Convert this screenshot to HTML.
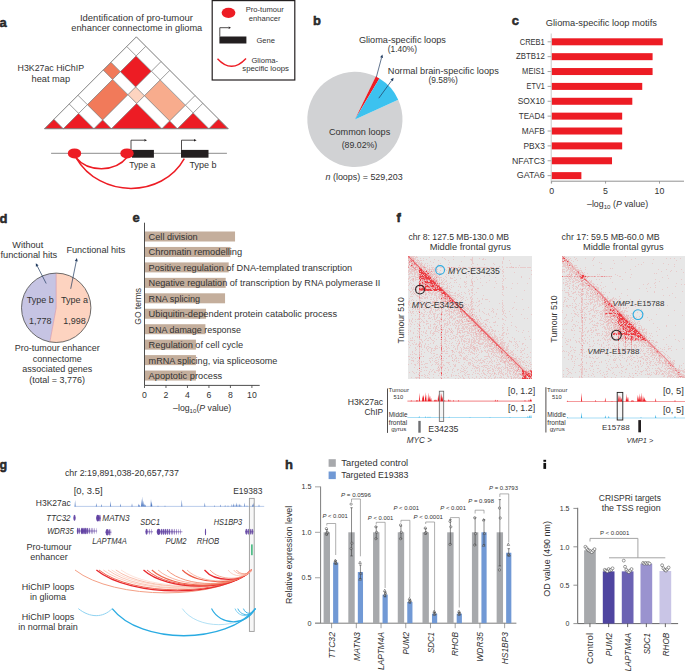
<!DOCTYPE html>
<html><head><meta charset="utf-8"><style>
html,body{margin:0;padding:0;background:#fff;}
svg{display:block;}
text{font-family:"Liberation Sans",sans-serif;fill:#333;}
</style></head><body>
<svg width="685" height="671" viewBox="0 0 685 671">
<defs><filter id="hb" x="-2%" y="-2%" width="104%" height="104%"><feGaussianBlur stdDeviation="0.35"/></filter></defs>
<rect width="685" height="671" fill="#fff"/>
<text x="-0.60" y="27.20" font-size="13.00" font-weight="bold" fill="#111" stroke="#111" stroke-width="0.45">a</text>
<text x="136.40" y="21.20" font-size="9.50" text-anchor="middle">Identification of pro-tumour</text>
<text x="136.80" y="31.30" font-size="9.24" text-anchor="middle">enhancer connectome in glioma</text>
<text x="50.80" y="71.00" font-size="8.81" text-anchor="middle">H3K27ac HiChIP</text>
<text x="50.80" y="82.00" font-size="9.26" text-anchor="middle">heat map</text>
<polygon points="44.50,128.70 53.95,119.25 63.40,128.70" fill="#ed1c24" stroke="#7d7d7d" stroke-width="0.6"/>
<polygon points="53.95,119.25 69.25,103.95 78.70,113.40 63.40,128.70" fill="#ffffff" stroke="#7d7d7d" stroke-width="0.6"/>
<polygon points="69.25,103.95 78.00,95.20 87.45,104.65 78.70,113.40" fill="#ffffff" stroke="#7d7d7d" stroke-width="0.6"/>
<polygon points="78.00,95.20 103.25,69.95 112.70,79.40 87.45,104.65" fill="#ffffff" stroke="#7d7d7d" stroke-width="0.6"/>
<polygon points="103.25,69.95 111.00,62.20 120.45,71.65 112.70,79.40" fill="#f17a5a" stroke="#7d7d7d" stroke-width="0.6"/>
<polygon points="111.00,62.20 126.75,46.45 136.20,55.90 120.45,71.65" fill="#ffffff" stroke="#7d7d7d" stroke-width="0.6"/>
<polygon points="126.75,46.45 136.35,36.85 145.80,46.30 136.20,55.90" fill="#ffffff" stroke="#7d7d7d" stroke-width="0.6"/>
<polygon points="63.40,128.70 78.70,113.40 94.00,128.70" fill="#ed1c24" stroke="#7d7d7d" stroke-width="0.6"/>
<polygon points="78.70,113.40 87.45,104.65 102.75,119.95 94.00,128.70" fill="#ffffff" stroke="#7d7d7d" stroke-width="0.6"/>
<polygon points="87.45,104.65 112.70,79.40 128.00,94.70 102.75,119.95" fill="#f17a5a" stroke="#7d7d7d" stroke-width="0.6"/>
<polygon points="112.70,79.40 120.45,71.65 135.75,86.95 128.00,94.70" fill="#ffffff" stroke="#7d7d7d" stroke-width="0.6"/>
<polygon points="120.45,71.65 136.20,55.90 151.50,71.20 135.75,86.95" fill="#ed1c24" stroke="#7d7d7d" stroke-width="0.6"/>
<polygon points="136.20,55.90 145.80,46.30 161.10,61.60 151.50,71.20" fill="#ffffff" stroke="#7d7d7d" stroke-width="0.6"/>
<polygon points="94.00,128.70 102.75,119.95 111.50,128.70" fill="#ed1c24" stroke="#7d7d7d" stroke-width="0.6"/>
<polygon points="102.75,119.95 128.00,94.70 136.75,103.45 111.50,128.70" fill="#ffffff" stroke="#7d7d7d" stroke-width="0.6"/>
<polygon points="128.00,94.70 135.75,86.95 144.50,95.70 136.75,103.45" fill="#fdd4c0" stroke="#7d7d7d" stroke-width="0.6"/>
<polygon points="135.75,86.95 151.50,71.20 160.25,79.95 144.50,95.70" fill="#ffffff" stroke="#7d7d7d" stroke-width="0.6"/>
<polygon points="151.50,71.20 161.10,61.60 169.85,70.35 160.25,79.95" fill="#ffffff" stroke="#7d7d7d" stroke-width="0.6"/>
<polygon points="111.50,128.70 136.75,103.45 162.00,128.70" fill="#ed1c24" stroke="#7d7d7d" stroke-width="0.6"/>
<polygon points="136.75,103.45 144.50,95.70 169.75,120.95 162.00,128.70" fill="#ffffff" stroke="#7d7d7d" stroke-width="0.6"/>
<polygon points="144.50,95.70 160.25,79.95 185.50,105.20 169.75,120.95" fill="#f8ac8d" stroke="#7d7d7d" stroke-width="0.6"/>
<polygon points="160.25,79.95 169.85,70.35 195.10,95.60 185.50,105.20" fill="#ffffff" stroke="#7d7d7d" stroke-width="0.6"/>
<polygon points="162.00,128.70 169.75,120.95 177.50,128.70" fill="#ed1c24" stroke="#7d7d7d" stroke-width="0.6"/>
<polygon points="169.75,120.95 185.50,105.20 193.25,112.95 177.50,128.70" fill="#ffffff" stroke="#7d7d7d" stroke-width="0.6"/>
<polygon points="185.50,105.20 195.10,95.60 202.85,103.35 193.25,112.95" fill="#ffffff" stroke="#7d7d7d" stroke-width="0.6"/>
<polygon points="177.50,128.70 193.25,112.95 209.00,128.70" fill="#ed1c24" stroke="#7d7d7d" stroke-width="0.6"/>
<polygon points="193.25,112.95 202.85,103.35 218.60,119.10 209.00,128.70" fill="#ffffff" stroke="#7d7d7d" stroke-width="0.6"/>
<polygon points="209.00,128.70 218.60,119.10 228.20,128.70" fill="#ed1c24" stroke="#7d7d7d" stroke-width="0.6"/>
<polygon points="44.50,128.70 136.35,36.85 228.20,128.70" fill="none" stroke="#7d7d7d" stroke-width="0.65"/>
<rect x="212.2" y="0.6" width="82.6" height="79.4" fill="none" stroke="#231f20" stroke-width="1.2"/>
<ellipse cx="228.5" cy="12.8" rx="6.9" ry="5.1" fill="#ed1c24"/>
<text x="264.70" y="11.70" font-size="7.60" text-anchor="middle">Pro-tumour</text>
<text x="264.70" y="20.60" font-size="7.60" text-anchor="middle">enhancer</text>
<rect x="219.40" y="36.50" width="27.00" height="7.00" fill="#231f20"/>
<line x1="219.80" y1="36.50" x2="219.80" y2="27.70" stroke="#231f20" stroke-width="0.8"/>
<line x1="219.80" y1="27.70" x2="228.60" y2="27.70" stroke="#231f20" stroke-width="0.8"/>
<polygon points="231.00,27.70 228.60,28.90 228.60,26.50" fill="#231f20" stroke="none" stroke-width="0.6"/>
<text x="265.70" y="42.60" font-size="7.60" text-anchor="middle">Gene</text>
<path d="M217.5,58.7 Q231.5,74 246,58.4" fill="none" stroke="#ed1c24" stroke-width="1.4"/>
<text x="264.70" y="62.80" font-size="7.60" text-anchor="middle">Glioma-</text>
<text x="265.60" y="71.30" font-size="7.78" text-anchor="middle">specific loops</text>
<line x1="51.10" y1="153.40" x2="226.90" y2="153.40" stroke="#a3a3a3" stroke-width="1.3"/>
<rect x="132.00" y="149.90" width="21.90" height="7.80" fill="#231f20"/>
<rect x="181.00" y="149.90" width="27.50" height="7.80" fill="#231f20"/>
<line x1="131.00" y1="149.90" x2="131.00" y2="140.20" stroke="#231f20" stroke-width="0.8"/>
<line x1="131.00" y1="140.20" x2="144.40" y2="140.20" stroke="#231f20" stroke-width="0.8"/>
<polygon points="147.00,140.20 144.40,141.50 144.40,138.90" fill="#231f20" stroke="none" stroke-width="0.6"/>
<line x1="181.50" y1="149.90" x2="181.50" y2="140.20" stroke="#231f20" stroke-width="0.8"/>
<line x1="181.50" y1="140.20" x2="194.00" y2="140.20" stroke="#231f20" stroke-width="0.8"/>
<polygon points="196.60,140.20 194.00,141.50 194.00,138.90" fill="#231f20" stroke="none" stroke-width="0.6"/>
<path d="M75.6,157.2 C88,172.5 115,172.5 127.3,157" fill="none" stroke="#ed1c24" stroke-width="1.5"/>
<path d="M76.1,157.8 C100,198.5 162,198.5 184.3,158.6" fill="none" stroke="#ed1c24" stroke-width="1.5"/>
<ellipse cx="74.5" cy="153.4" rx="6.7" ry="5.0" fill="#ed1c24"/>
<ellipse cx="127.0" cy="153.4" rx="6.7" ry="5.0" fill="#ed1c24"/>
<text x="129.20" y="168.00" font-size="8.70">Type a</text>
<text x="189.50" y="168.00" font-size="9.03">Type b</text>
<text x="313.00" y="25.40" font-size="13.00" font-weight="bold" fill="#111" stroke="#111" stroke-width="0.45">b</text>
<path d="M354.90,119.40 L398.21,99.66 A47.6,47.6 0 1 1 375.77,76.62 Z" fill="#d1d2d4" stroke="none" stroke-width="0"/>
<path d="M354.90,119.40 L375.77,76.62 A47.6,47.6 0 0 1 379.42,78.60 Z" fill="#ed1c24" stroke="none" stroke-width="0"/>
<path d="M354.90,119.40 L379.42,78.60 A47.6,47.6 0 0 1 398.21,99.66 Z" fill="#3cc2ef" stroke="none" stroke-width="0"/>
<text x="358.90" y="42.70" font-size="9.16">Glioma-specific loops</text>
<text x="387.80" y="51.90" font-size="8.34">(1.40%)</text>
<text x="387.80" y="73.80" font-size="9.21">Normal brain-specific loops</text>
<text x="428.40" y="83.20" font-size="8.43">(9.58%)</text>
<line x1="376.40" y1="77.00" x2="381.58" y2="57.59" stroke="#1f3a5f" stroke-width="0.7"/>
<polygon points="382.40,54.50 383.02,57.98 380.13,57.21" fill="#1f3a5f" stroke="none" stroke-width="0.6"/>
<line x1="378.80" y1="98.20" x2="391.72" y2="80.39" stroke="#1f3a5f" stroke-width="0.7"/>
<polygon points="393.60,77.80 392.94,81.27 390.51,79.51" fill="#1f3a5f" stroke="none" stroke-width="0.6"/>
<text x="328.90" y="134.90" font-size="9.13">Common loops</text>
<text x="341.70" y="148.00" font-size="8.75">(89.02%)</text>
<text x="325.50" y="180.40" font-size="8.94"><tspan font-style="italic">n</tspan><tspan> (loops) = 529,203</tspan></text>
<text x="511.80" y="25.00" font-size="13.00" font-weight="bold" fill="#111" stroke="#111" stroke-width="0.45">c</text>
<text x="545.80" y="26.20" font-size="9.31">Glioma-specific loop motifs</text>
<rect x="551.60" y="38.30" width="111.14" height="7.00" fill="#ed1c24"/>
<line x1="547.60" y1="41.80" x2="551.60" y2="41.80" stroke="#8a8a8a" stroke-width="0.8"/>
<text x="544.80" y="44.60" font-size="8.70" textLength="25.10" lengthAdjust="spacingAndGlyphs" text-anchor="end">CREB1</text>
<rect x="551.60" y="53.17" width="100.99" height="7.00" fill="#ed1c24"/>
<line x1="547.60" y1="56.67" x2="551.60" y2="56.67" stroke="#8a8a8a" stroke-width="0.8"/>
<text x="544.80" y="59.47" font-size="8.70" textLength="28.70" lengthAdjust="spacingAndGlyphs" text-anchor="end">ZBTB12</text>
<rect x="551.60" y="68.04" width="100.99" height="7.00" fill="#ed1c24"/>
<line x1="547.60" y1="71.54" x2="551.60" y2="71.54" stroke="#8a8a8a" stroke-width="0.8"/>
<text x="544.80" y="74.34" font-size="8.70" textLength="22.70" lengthAdjust="spacingAndGlyphs" text-anchor="end">MEIS1</text>
<rect x="551.60" y="82.91" width="90.64" height="7.00" fill="#ed1c24"/>
<line x1="547.60" y1="86.41" x2="551.60" y2="86.41" stroke="#8a8a8a" stroke-width="0.8"/>
<text x="544.80" y="89.21" font-size="8.70" textLength="18.20" lengthAdjust="spacingAndGlyphs" text-anchor="end">ETV1</text>
<rect x="551.60" y="97.78" width="80.71" height="7.00" fill="#ed1c24"/>
<line x1="547.60" y1="101.28" x2="551.60" y2="101.28" stroke="#8a8a8a" stroke-width="0.8"/>
<text x="544.80" y="104.08" font-size="8.70" textLength="27.10" lengthAdjust="spacingAndGlyphs" text-anchor="end">SOX10</text>
<rect x="551.60" y="112.65" width="70.57" height="7.00" fill="#ed1c24"/>
<line x1="547.60" y1="116.15" x2="551.60" y2="116.15" stroke="#8a8a8a" stroke-width="0.8"/>
<text x="544.80" y="118.95" font-size="8.70" textLength="26.00" lengthAdjust="spacingAndGlyphs" text-anchor="end">TEAD4</text>
<rect x="551.60" y="127.52" width="70.57" height="7.00" fill="#ed1c24"/>
<line x1="547.60" y1="131.02" x2="551.60" y2="131.02" stroke="#8a8a8a" stroke-width="0.8"/>
<text x="544.80" y="133.82" font-size="8.70" textLength="23.00" lengthAdjust="spacingAndGlyphs" text-anchor="end">MAFB</text>
<rect x="551.60" y="142.39" width="70.57" height="7.00" fill="#ed1c24"/>
<line x1="547.60" y1="145.89" x2="551.60" y2="145.89" stroke="#8a8a8a" stroke-width="0.8"/>
<text x="544.80" y="148.69" font-size="8.70" textLength="21.30" lengthAdjust="spacingAndGlyphs" text-anchor="end">PBX3</text>
<rect x="551.60" y="157.26" width="60.42" height="7.00" fill="#ed1c24"/>
<line x1="547.60" y1="160.76" x2="551.60" y2="160.76" stroke="#8a8a8a" stroke-width="0.8"/>
<text x="544.80" y="163.56" font-size="8.70" textLength="32.80" lengthAdjust="spacingAndGlyphs" text-anchor="end">NFATC3</text>
<rect x="551.60" y="172.13" width="29.78" height="7.00" fill="#ed1c24"/>
<line x1="547.60" y1="175.63" x2="551.60" y2="175.63" stroke="#8a8a8a" stroke-width="0.8"/>
<text x="544.80" y="178.43" font-size="8.70" textLength="28.00" lengthAdjust="spacingAndGlyphs" text-anchor="end">GATA6</text>
<line x1="551.20" y1="33.50" x2="551.20" y2="183.40" stroke="#c4c4c4" stroke-width="0.9"/>
<line x1="551.60" y1="181.20" x2="684.00" y2="181.20" stroke="#858585" stroke-width="0.9"/>
<line x1="551.60" y1="181.20" x2="551.60" y2="183.60" stroke="#858585" stroke-width="0.8"/>
<text x="551.60" y="193.50" font-size="8.80" text-anchor="middle">0</text>
<line x1="605.55" y1="181.20" x2="605.55" y2="183.60" stroke="#858585" stroke-width="0.8"/>
<text x="605.55" y="193.50" font-size="8.80" text-anchor="middle">5</text>
<line x1="659.50" y1="181.20" x2="659.50" y2="183.60" stroke="#858585" stroke-width="0.8"/>
<text x="659.50" y="193.50" font-size="8.80" text-anchor="middle">10</text>
<text x="587.00" y="206.80" font-size="8.81"><tspan>–log</tspan><tspan font-size="6.17" dy="2.20">10</tspan><tspan dy="-2.20"> (</tspan><tspan font-style="italic">P</tspan><tspan> value)</tspan></text>
<text x="-0.60" y="223.00" font-size="13.00" font-weight="bold" fill="#111" stroke="#111" stroke-width="0.45">d</text>
<path d="M56.20,307.80 L56.20,273.10 A34.7,34.7 0 1 1 49.88,341.92 Z" fill="#fdd3c0" stroke="none" stroke-width="0"/>
<path d="M56.20,307.80 L49.88,341.92 A34.7,34.7 0 0 1 56.20,273.10 Z" fill="#c6c4e3" stroke="none" stroke-width="0"/>
<path d="M56.2,273.1 L56.2,307.8 L49.88,341.92" fill="none" stroke="#d890a0" stroke-width="0.6"/>
<circle cx="56.2" cy="307.8" r="34.7" fill="none" stroke="#4a4a4a" stroke-width="0.8"/>
<text x="40.30" y="302.90" font-size="9.00" text-anchor="middle">Type b</text>
<text x="74.50" y="302.90" font-size="9.00" text-anchor="middle">Type a</text>
<text x="40.30" y="323.70" font-size="9.00" text-anchor="middle">1,778</text>
<text x="74.50" y="323.70" font-size="9.00" text-anchor="middle">1,998</text>
<text x="12.30" y="247.90" font-size="9.14">Without</text>
<text x="0.40" y="258.20" font-size="9.31">functional hits</text>
<text x="66.40" y="253.00" font-size="9.14">Functional hits</text>
<line x1="46.20" y1="283.50" x2="37.26" y2="266.05" stroke="#1f3a5f" stroke-width="0.7"/>
<polygon points="35.80,263.20 38.59,265.36 35.92,266.73" fill="#1f3a5f" stroke="none" stroke-width="0.6"/>
<line x1="70.70" y1="288.80" x2="76.27" y2="261.24" stroke="#1f3a5f" stroke-width="0.7"/>
<polygon points="76.90,258.10 77.74,261.53 74.80,260.94" fill="#1f3a5f" stroke="none" stroke-width="0.6"/>
<text x="57.20" y="351.30" font-size="9.00" text-anchor="middle">Pro-tumour enhancer</text>
<text x="57.20" y="361.70" font-size="9.00" text-anchor="middle">connectome</text>
<text x="57.20" y="372.10" font-size="9.00" text-anchor="middle">associated genes</text>
<text x="57.20" y="382.50" font-size="9.00" text-anchor="middle">(total = 3,776)</text>
<text x="132.40" y="222.20" font-size="13.00" font-weight="bold" fill="#111" stroke="#111" stroke-width="0.45">e</text>
<rect x="144.50" y="231.50" width="90.54" height="10.00" fill="#c4ae9c"/>
<text x="148.60" y="239.90" font-size="9.20" textLength="49.10" lengthAdjust="spacingAndGlyphs">Cell division</text>
<rect x="144.50" y="246.95" width="85.92" height="10.00" fill="#c4ae9c"/>
<text x="148.60" y="255.35" font-size="9.20" textLength="93.60" lengthAdjust="spacingAndGlyphs">Chromatin remodelling</text>
<rect x="144.50" y="262.40" width="84.20" height="10.00" fill="#c4ae9c"/>
<text x="148.60" y="270.80" font-size="9.20" textLength="203.60" lengthAdjust="spacingAndGlyphs">Positive regulation of DNA-templated transcription</text>
<rect x="144.50" y="277.85" width="81.19" height="10.00" fill="#c4ae9c"/>
<text x="148.60" y="286.25" font-size="9.20" textLength="231.80" lengthAdjust="spacingAndGlyphs">Negative regulation of transcription by RNA polymerase II</text>
<rect x="144.50" y="293.30" width="80.55" height="10.00" fill="#c4ae9c"/>
<text x="148.60" y="301.70" font-size="9.20" textLength="51.50" lengthAdjust="spacingAndGlyphs">RNA splicing</text>
<rect x="144.50" y="308.75" width="61.54" height="10.00" fill="#c4ae9c"/>
<text x="148.60" y="317.15" font-size="9.20" textLength="188.50" lengthAdjust="spacingAndGlyphs">Ubiquitin-dependent protein catabolic process</text>
<rect x="144.50" y="324.20" width="60.90" height="10.00" fill="#c4ae9c"/>
<text x="148.60" y="332.60" font-size="9.20" textLength="92.40" lengthAdjust="spacingAndGlyphs">DNA damage response</text>
<rect x="144.50" y="339.65" width="51.44" height="10.00" fill="#c4ae9c"/>
<text x="148.60" y="348.05" font-size="9.20" textLength="94.50" lengthAdjust="spacingAndGlyphs">Regulation of cell cycle</text>
<rect x="144.50" y="355.10" width="51.44" height="10.00" fill="#c4ae9c"/>
<text x="148.60" y="363.50" font-size="9.20" textLength="128.80" lengthAdjust="spacingAndGlyphs">mRNA splicing, via spliceosome</text>
<rect x="144.50" y="370.55" width="51.44" height="10.00" fill="#c4ae9c"/>
<text x="148.60" y="378.95" font-size="9.20" textLength="73.60" lengthAdjust="spacingAndGlyphs">Apoptotic process</text>
<line x1="144.50" y1="222.70" x2="144.50" y2="385.40" stroke="#3a3a3a" stroke-width="0.9"/>
<line x1="144.50" y1="385.40" x2="259.70" y2="385.40" stroke="#3a3a3a" stroke-width="0.9"/>
<line x1="144.50" y1="385.40" x2="144.50" y2="388.00" stroke="#3a3a3a" stroke-width="0.8"/>
<text x="144.50" y="398.00" font-size="8.70" text-anchor="middle">0</text>
<line x1="165.98" y1="385.40" x2="165.98" y2="388.00" stroke="#3a3a3a" stroke-width="0.8"/>
<text x="165.98" y="398.00" font-size="8.70" text-anchor="middle">2</text>
<line x1="187.46" y1="385.40" x2="187.46" y2="388.00" stroke="#3a3a3a" stroke-width="0.8"/>
<text x="187.46" y="398.00" font-size="8.70" text-anchor="middle">4</text>
<line x1="208.94" y1="385.40" x2="208.94" y2="388.00" stroke="#3a3a3a" stroke-width="0.8"/>
<text x="208.94" y="398.00" font-size="8.70" text-anchor="middle">6</text>
<line x1="230.42" y1="385.40" x2="230.42" y2="388.00" stroke="#3a3a3a" stroke-width="0.8"/>
<text x="230.42" y="398.00" font-size="8.70" text-anchor="middle">8</text>
<line x1="251.90" y1="385.40" x2="251.90" y2="388.00" stroke="#3a3a3a" stroke-width="0.8"/>
<text x="251.90" y="398.00" font-size="8.70" text-anchor="middle">10</text>
<text x="173.10" y="411.10" font-size="8.73"><tspan>–log</tspan><tspan font-size="6.11" dy="2.18">10</tspan><tspan dy="-2.18">(</tspan><tspan font-style="italic">P</tspan><tspan> value)</tspan></text>
<text x="140.80" y="306.30" font-size="8.49" text-anchor="middle" transform="rotate(-90 140.80 306.30)">GO terms</text>
<text x="396.60" y="222.20" font-size="13.00" font-weight="bold" fill="#111" stroke="#111" stroke-width="0.45">f</text>
<text x="408.40" y="240.10" font-size="8.65">chr 8: 127.5 MB-130.0 MB</text>
<text x="429.70" y="250.00" font-size="9.31">Middle frontal gyrus</text>
<text x="561.60" y="240.10" font-size="8.83">chr 17: 59.5 MB-60.0 MB</text>
<text x="583.00" y="250.00" font-size="9.24">Middle frontal gyrus</text>
<rect x="408.00" y="256.00" width="124.00" height="123.00" fill="#e7e7e7"/>
<g filter="url(#hb)"><path d="M410 256.5h5m1 0h1m36 0h1m10 0h1M412 257.5h2m1 0h3m11 0h1m12 0h1m29 0h1m30 0h1M414 258.5h2m4 0h1m2 0h1m20 0h1m27 0h1m6 0h1m3 0h1m19 0h1M408 259.5h2m4 0h2m1 0h1m8 0h1m7 0h1m10 0h1m7 0h1m16 0h3m9 0h2m1 0h1m17 0h1M409 260.5h1m4 0h1m1 0h2m2 0h2m1 0h1m14 0h1m9 0h1m22 0h2m36 0h1M415 261.5h1m1 0h1m1 0h1m10 0h1m30 0h1m10 0h1m29 0h1M408 262.5h1m2 0h2m4 0h3m1 0h1m11 0h1m15 0h1m22 0h1m29 0h1M408 263.5h2m3 0h1m4 0h5m2 0h1m1 0h1m12 0h1m31 0h2m19 0h1m8 0h1m7 0h1M418 264.5h3m3 0h1m13 0h1m9 0h1m22 0h1m5 0h1m6 0h1m9 0h1M408 265.5h3m2 0h3m5 0h2m1 0h1m2 0h1m1 0h1m1 0h1m5 0h1m21 0h1m59 0h1M415 266.5h1m4 0h3m1 0h1m2 0h1m14 0h1m29 0h1m26 0h1m2 0h1m8 0h1M409 267.5h1m1 0h1m2 0h1m7 0h1m3 0h1m2 0h1m1 0h3m1 0h1m1 0h1m2 0h4m3 0h1m4 0h1m1 0h2m3 0h2m1 0h1m1 0h2m2 0h3m1 0h6m2 0h4m1 0h3m4 0h2m2 0h3m3 0h1m3 0h2m1 0h4m2 0h2m1 0h1m1 0h6m1 0h4M409 268.5h3m1 0h1m3 0h2m4 0h3m1 0h1m1 0h1m2 0h1m1 0h1m1 0h1m14 0h1m1 0h1m15 0h1m1 0h2m4 0h1m11 0h1M409 269.5h3m1 0h2m3 0h1m4 0h2m2 0h2m1 0h5m1 0h2m7 0h1m6 0h1m47 0h1m2 0h1M408 270.5h2m1 0h3m1 0h2m10 0h1m3 0h1m1 0h2m1 0h1m3 0h1m5 0h1m9 0h1m15 0h1m29 0h1m28 0h1M408 271.5h7m1 0h3m8 0h1m1 0h2m1 0h3m1 0h2m16 0h1m16 0h1m30 0h2M408 272.5h1m1 0h2m2 0h4m8 0h1m1 0h1m3 0h1m1 0h1m4 0h1m14 0h1m10 0h1m5 0h1m8 0h1m22 0h1m10 0h1M409 273.5h4m1 0h2m1 0h3m9 0h2m2 0h5m2 0h2m26 0h1m5 0h1m27 0h1M408 274.5h2m2 0h1m1 0h2m1 0h2m10 0h1m1 0h1m1 0h1m1 0h2m2 0h2m5 0h1m19 0h1m5 0h1m58 0h1M414 275.5h1m2 0h2m4 0h1m7 0h3m1 0h3m10 0h1m4 0h1m4 0h1m10 0h1m19 0h1m13 0h1M409 276.5h1m1 0h5m2 0h1m15 0h5m6 0h1m20 0h1m5 0h1m11 0h1m18 0h1m17 0h1M409 277.5h2m4 0h2m1 0h1m13 0h1m4 0h5m4 0h1m3 0h1m3 0h1m11 0h1m9 0h1m18 0h1m25 0h1M408 278.5h2m2 0h1m2 0h1m16 0h1m1 0h1m1 0h1m2 0h1m3 0h1m6 0h3m7 0h1m11 0h1m7 0h1m21 0h1m2 0h1m23 0h1M408 279.5h1m2 0h2m2 0h4m16 0h3m1 0h1m1 0h1m2 0h1m11 0h1m14 0h1m5 0h1m25 0h1M410 280.5h1m1 0h2m1 0h1m3 0h1m1 0h1m3 0h1m2 0h1m8 0h1m1 0h1m1 0h1m1 0h1m2 0h1m7 0h2m15 0h1m17 0h1m13 0h1M408 281.5h1m4 0h1m14 0h1m8 0h2m3 0h1m2 0h2m17 0h1m1 0h1m4 0h2m1 0h1m20 0h1m6 0h1M410 282.5h1m7 0h1m17 0h1m2 0h1m2 0h1m1 0h1m5 0h1m3 0h1m1 0h1m7 0h2m5 0h2m7 0h1m5 0h1M409 283.5h1m1 0h1m9 0h1m16 0h1m1 0h2m1 0h1m3 0h1m1 0h1m16 0h1m29 0h1m5 0h1m9 0h1m4 0h1m9 0h1M409 284.5h1m3 0h1m24 0h1m2 0h4m1 0h1m12 0h1m5 0h1m6 0h1M408 285.5h1m3 0h1m1 0h1m9 0h1m22 0h1m3 0h1m18 0h3m9 0h1m19 0h1M415 286.5h4m22 0h3m3 0h1m1 0h1m3 0h1m4 0h1m1 0h1m3 0h1m1 0h1m6 0h1m28 0h2M411 287.5h1m1 0h1m1 0h3m3 0h1m24 0h2m3 0h1m8 0h1m4 0h1m28 0h1m7 0h2m2 0h1M411 288.5h1m1 0h1m1 0h1m11 0h1m14 0h6m1 0h1m22 0h1m4 0h2m24 0h1m7 0h1M408 289.5h1m3 0h3m1 0h1m15 0h1m11 0h1m5 0h1m17 0h1m2 0h2m29 0h2M409 290.5h1m2 0h1m3 0h1m21 0h1m5 0h5m9 0h1m10 0h1m1 0h2m51 0h1M410 291.5h2m1 0h1m4 0h1m1 0h1m4 0h1m2 0h2m3 0h2m10 0h3m20 0h1M410 292.5h1m2 0h1m1 0h1m2 0h1m3 0h1m1 0h2m3 0h2m1 0h2m1 0h3m1 0h1m6 0h7m2 0h1m5 0h1m2 0h1m6 0h2m3 0h1m25 0h1M412 293.5h1m3 0h1m4 0h1m3 0h2m2 0h4m1 0h3m2 0h1m7 0h1m1 0h1m4 0h2m3 0h1m5 0h1m3 0h1m2 0h1M411 294.5h1m1 0h1m1 0h1m3 0h1m3 0h1m2 0h1m1 0h1m2 0h2m1 0h2m2 0h2m9 0h2m6 0h2m2 0h1m7 0h1m4 0h1m27 0h1M416 295.5h2m3 0h1m3 0h1m3 0h1m1 0h1m2 0h3m2 0h2m2 0h1m7 0h5m1 0h1m1 0h1m12 0h1m10 0h1m19 0h1M410 296.5h3m4 0h2m3 0h2m3 0h1m8 0h1m1 0h4m8 0h2m3 0h1m2 0h1m1 0h1m2 0h1m7 0h1m44 0h1M420 297.5h2m2 0h4m2 0h2m2 0h1m1 0h1m1 0h2m11 0h1m1 0h1m3 0h1m3 0h2m3 0h1m3 0h2M409 298.5h1m10 0h3m1 0h2m1 0h1m5 0h1m2 0h2m4 0h1m5 0h1m3 0h4m4 0h1m2 0h1m6 0h1m1 0h1m4 0h1m4 0h1M412 299.5h1m6 0h1m10 0h2m1 0h1m2 0h1m3 0h1m1 0h3m3 0h1m7 0h1m5 0h1m4 0h1m3 0h2m9 0h1m2 0h3m34 0h1M409 300.5h1m1 0h1m1 0h1m2 0h1m2 0h2m13 0h1m1 0h2m3 0h4m12 0h1m3 0h1m3 0h1m5 0h1m7 0h1m22 0h1M408 301.5h2m9 0h1m1 0h2m3 0h1m3 0h1m1 0h5m3 0h3m12 0h2m2 0h2m11 0h1m5 0h2m9 0h1M408 302.5h2m4 0h1m1 0h1m7 0h1m1 0h1m1 0h1m3 0h1m1 0h1m2 0h1m2 0h4m1 0h2m2 0h3m5 0h2m3 0h1m7 0h2m1 0h1m2 0h1m25 0h1m11 0h1M408 303.5h1m1 0h1m1 0h2m10 0h2m5 0h2m2 0h1m2 0h4m1 0h1m1 0h2m1 0h2m3 0h1m4 0h2m4 0h1m6 0h2m8 0h1m17 0h1m2 0h1M408 304.5h2m2 0h2m5 0h3m1 0h2m1 0h1m1 0h1m4 0h3m1 0h3m4 0h2m4 0h1m3 0h1m6 0h1m1 0h1m1 0h2m1 0h1m1 0h2m7 0h1m22 0h1M409 305.5h1m9 0h2m3 0h2m1 0h1m3 0h1m1 0h2m1 0h1m1 0h2m1 0h1m1 0h2m3 0h3m2 0h3m3 0h2m2 0h2m3 0h1m1 0h1m1 0h1m2 0h1m2 0h1m24 0h1M412 306.5h1m2 0h1m1 0h4m1 0h1m2 0h2m3 0h1m7 0h1m1 0h2m4 0h1m1 0h2m3 0h3m5 0h3m2 0h1m2 0h1m1 0h2m4 0h1m24 0h1M408 307.5h1m1 0h1m6 0h1m3 0h4m1 0h1m3 0h2m2 0h1m4 0h1m2 0h1m1 0h1m3 0h1m1 0h3m1 0h3m5 0h4m1 0h1m3 0h1m30 0h1m10 0h1m14 0h1M413 308.5h1m1 0h1m1 0h1m7 0h2m1 0h1m1 0h2m6 0h2m3 0h1m4 0h1m5 0h5m5 0h1m1 0h3m2 0h3m10 0h1m7 0h1m10 0h1m8 0h1M412 309.5h1m2 0h1m1 0h3m3 0h2m6 0h1m1 0h1m1 0h1m1 0h2m2 0h2m2 0h1m2 0h2m1 0h2m1 0h1m1 0h4m4 0h2m1 0h2m1 0h1m1 0h3m4 0h1m9 0h1m3 0h1m3 0h1m4 0h1m13 0h1m6 0h1M409 310.5h1m9 0h1m4 0h1m5 0h2m3 0h3m1 0h1m1 0h1m3 0h2m2 0h1m3 0h1m1 0h3m6 0h3m2 0h2m1 0h1m6 0h1m12 0h1m9 0h1m1 0h1M410 311.5h1m1 0h2m2 0h1m1 0h1m6 0h1m3 0h2m1 0h1m2 0h1m5 0h2m2 0h2m1 0h3m2 0h2m3 0h2m5 0h1m1 0h1m1 0h2m1 0h1m6 0h1m2 0h1m8 0h1m1 0h1m8 0h2m5 0h1M408 312.5h1m1 0h1m1 0h1m8 0h1m2 0h1m2 0h1m1 0h2m1 0h1m9 0h1m6 0h1m1 0h3m1 0h1m1 0h3m2 0h1m6 0h1m2 0h1m1 0h1m1 0h1m6 0h1m9 0h1m9 0h1M411 313.5h1m1 0h1m3 0h1m3 0h2m7 0h1m2 0h3m3 0h1m6 0h2m1 0h1m1 0h1m1 0h1m2 0h3m2 0h1m1 0h1m3 0h5m12 0h1m3 0h1m7 0h1m6 0h1m1 0h1M420 314.5h1m2 0h2m1 0h1m2 0h1m1 0h1m1 0h2m2 0h2m1 0h1m1 0h1m1 0h2m2 0h1m5 0h1m1 0h2m2 0h2m1 0h1m4 0h3m2 0h2m11 0h1m1 0h1m7 0h1m5 0h1m7 0h1m10 0h1m9 0h1M411 315.5h1m3 0h1m3 0h1m3 0h1m4 0h1m5 0h1m2 0h1m6 0h1m2 0h1m1 0h1m1 0h1m1 0h1m1 0h1m3 0h2m3 0h1m5 0h1m3 0h1m1 0h1m2 0h1m9 0h1m14 0h1M422 316.5h3m3 0h1m4 0h2m2 0h1m3 0h1m4 0h1m3 0h3m4 0h7m7 0h3m1 0h2m18 0h1m9 0h1m6 0h1M419 317.5h1m9 0h1m1 0h1m2 0h1m1 0h2m1 0h1m9 0h4m2 0h1m1 0h6m1 0h1m8 0h1m1 0h1m1 0h1m2 0h1m11 0h1m13 0h1M412 318.5h1m5 0h3m3 0h1m3 0h3m3 0h1m1 0h1m3 0h1m4 0h1m1 0h1m1 0h1m1 0h1m1 0h3m6 0h1m3 0h3m4 0h1m2 0h1m3 0h1m17 0h1m3 0h1m21 0h1m2 0h1M409 319.5h1m2 0h1m2 0h1m1 0h2m2 0h1m10 0h1m1 0h2m4 0h1m3 0h1m3 0h1m4 0h2m4 0h1m7 0h1m1 0h2m5 0h2m3 0h1m4 0h3m13 0h2M409 320.5h1m1 0h1m10 0h1m3 0h1m10 0h3m1 0h1m1 0h3m3 0h1m2 0h1m3 0h1m2 0h4m3 0h1m2 0h2m4 0h1m1 0h2m5 0h3m18 0h1M409 321.5h1m1 0h1m3 0h1m3 0h1m1 0h1m1 0h1m2 0h2m2 0h1m4 0h2m2 0h3m1 0h1m3 0h1m1 0h1m5 0h1m1 0h3m1 0h1m2 0h4m2 0h3m3 0h1m10 0h1m7 0h1M412 322.5h1m6 0h2m2 0h2m12 0h1m1 0h1m1 0h1m5 0h1m1 0h2m4 0h1m2 0h2m3 0h1m6 0h3m5 0h1m1 0h1m2 0h1m5 0h1m3 0h3m15 0h1M410 323.5h1m6 0h1m1 0h1m6 0h3m5 0h1m4 0h1m4 0h4m1 0h1m2 0h1m1 0h1m1 0h3m1 0h2m3 0h1m1 0h2m2 0h3m4 0h5m2 0h1m17 0h1M408 324.5h1m2 0h1m2 0h1m3 0h1m7 0h1m3 0h1m2 0h3m3 0h1m1 0h1m2 0h2m1 0h2m3 0h1m1 0h1m5 0h1m1 0h7m4 0h1m5 0h3m4 0h1m17 0h1M423 325.5h1m6 0h1m6 0h1m2 0h1m3 0h1m1 0h2m2 0h1m2 0h1m1 0h2m1 0h2m1 0h1m2 0h1m3 0h2m1 0h2m7 0h1m2 0h1m2 0h1m7 0h1m2 0h1m4 0h1m8 0h1M410 326.5h1m6 0h1m1 0h2m7 0h1m1 0h1m3 0h1m5 0h2m2 0h1m11 0h1m1 0h1m3 0h2m1 0h3m2 0h3m1 0h3m4 0h5m1 0h1m2 0h1m24 0h1M424 327.5h1m3 0h1m4 0h1m1 0h2m1 0h1m4 0h1m2 0h1m8 0h1m2 0h1m3 0h2m1 0h3m1 0h1m1 0h1m2 0h4m6 0h2m4 0h2m10 0h2m3 0h1m8 0h1M414 328.5h1m3 0h1m1 0h1m3 0h1m3 0h3m2 0h1m1 0h2m3 0h2m6 0h2m1 0h1m3 0h1m1 0h3m1 0h4m1 0h1m1 0h5m1 0h1m1 0h2m1 0h1m3 0h1m2 0h1m1 0h1m13 0h1M435 329.5h1m1 0h1m2 0h1m1 0h2m1 0h1m5 0h1m5 0h2m4 0h2m2 0h1m1 0h1m1 0h5m1 0h2m1 0h1m3 0h2m3 0h1m1 0h2m10 0h1m3 0h1M408 330.5h1m1 0h1m6 0h1m1 0h1m6 0h1m4 0h1m3 0h1m2 0h2m1 0h2m2 0h1m1 0h1m2 0h1m1 0h1m4 0h1m1 0h4m8 0h3m1 0h1m1 0h1m10 0h2m2 0h2m1 0h1m6 0h1m4 0h1m8 0h1m6 0h1M410 331.5h1m7 0h2m1 0h1m1 0h1m2 0h1m3 0h1m3 0h4m7 0h1m1 0h2m4 0h1m3 0h1m1 0h1m2 0h1m1 0h4m1 0h1m1 0h1m3 0h3m1 0h1m6 0h3m2 0h2m1 0h2m2 0h1m19 0h1m9 0h1M408 332.5h1m4 0h1m9 0h1m1 0h1m4 0h1m2 0h1m4 0h1m6 0h3m2 0h3m4 0h2m1 0h1m1 0h3m2 0h2m1 0h5m5 0h2m5 0h1m2 0h1m12 0h2m17 0h1M413 333.5h1m3 0h1m1 0h1m5 0h2m3 0h1m1 0h3m5 0h2m3 0h1m6 0h1m4 0h1m2 0h1m6 0h3m3 0h1m1 0h1m1 0h4m1 0h1m5 0h3m1 0h1m1 0h1m7 0h2m2 0h1m1 0h1M408 334.5h1m12 0h1m11 0h1m6 0h1m3 0h2m4 0h1m5 0h2m6 0h1m5 0h2m1 0h1m1 0h1m2 0h2m1 0h1m1 0h1m5 0h3m2 0h1m4 0h1m2 0h1m3 0h1M419 335.5h1m2 0h1m4 0h1m4 0h1m2 0h1m4 0h1m5 0h1m1 0h1m4 0h2m4 0h1m2 0h2m2 0h3m2 0h1m1 0h1m2 0h2m1 0h2m3 0h1m6 0h1m2 0h2m5 0h3M415 336.5h1m1 0h1m7 0h1m18 0h1m3 0h1m2 0h1m3 0h2m2 0h5m1 0h1m5 0h1m2 0h10m2 0h1m5 0h1m1 0h3m32 0h1M412 337.5h1m4 0h1m11 0h2m7 0h1m6 0h1m7 0h1m1 0h1m1 0h1m2 0h1m1 0h1m9 0h2m2 0h1m2 0h2m4 0h3m5 0h3m1 0h1m1 0h2m2 0h1m3 0h1m4 0h1m11 0h1M410 338.5h1m1 0h1m6 0h1m6 0h1m1 0h1m1 0h1m3 0h1m6 0h1m3 0h1m3 0h2m1 0h2m1 0h1m5 0h1m2 0h2m1 0h1m1 0h1m3 0h2m1 0h1m1 0h4m2 0h2m3 0h1m3 0h2m1 0h2m4 0h1m11 0h1M419 339.5h3m3 0h1m5 0h1m4 0h1m3 0h1m3 0h2m5 0h1m6 0h1m2 0h2m3 0h1m1 0h2m1 0h2m1 0h1m1 0h2m1 0h9m2 0h1m3 0h4m2 0h3m11 0h1m10 0h1m4 0h1M410 340.5h3m1 0h1m6 0h1m2 0h1m2 0h2m3 0h2m7 0h1m3 0h2m8 0h1m2 0h1m2 0h1m1 0h2m4 0h1m1 0h1m1 0h3m2 0h2m3 0h1m1 0h6m4 0h1m1 0h2m1 0h1m2 0h1m5 0h1M408 341.5h1m10 0h1m2 0h1m11 0h1m9 0h2m1 0h1m1 0h1m7 0h1m1 0h1m1 0h1m1 0h4m1 0h2m1 0h1m1 0h3m2 0h2m4 0h2m1 0h2m7 0h2m3 0h2m6 0h3m2 0h1m1 0h1m2 0h1M409 342.5h1m4 0h1m4 0h2m1 0h1m10 0h1m18 0h1m6 0h1m4 0h1m3 0h2m1 0h4m1 0h3m3 0h2m3 0h2m2 0h1m5 0h2m1 0h6m5 0h1m3 0h1M412 343.5h1m3 0h1m3 0h1m4 0h1m4 0h1m2 0h1m6 0h1m3 0h2m3 0h1m1 0h1m4 0h1m1 0h1m3 0h1m3 0h2m3 0h1m2 0h2m3 0h5m1 0h2m1 0h3m1 0h1m1 0h1m6 0h4m3 0h1m7 0h1m5 0h2M408 344.5h1m4 0h1m1 0h2m1 0h1m2 0h1m3 0h1m2 0h1m17 0h1m11 0h1m3 0h1m1 0h1m3 0h1m1 0h2m1 0h1m5 0h4m2 0h1m1 0h1m1 0h5m1 0h1m4 0h3m1 0h1m2 0h1m7 0h1m1 0h1m4 0h1M410 345.5h1m7 0h2m1 0h1m2 0h1m11 0h1m3 0h1m7 0h1m2 0h1m1 0h1m3 0h2m5 0h1m5 0h3m3 0h2m6 0h1m1 0h6m3 0h1m5 0h4m3 0h1m4 0h1m3 0h1m7 0h1M417 346.5h1m2 0h2m2 0h1m2 0h2m6 0h1m1 0h1m4 0h1m2 0h2m7 0h1m2 0h1m5 0h1m3 0h2m1 0h2m2 0h1m4 0h2m3 0h4m3 0h2m1 0h2m5 0h3m2 0h3m6 0h1m2 0h1M409 347.5h1m5 0h1m3 0h1m1 0h1m2 0h1m1 0h1m2 0h2m4 0h1m3 0h1m6 0h1m1 0h1m4 0h1m3 0h1m2 0h1m2 0h2m1 0h1m2 0h2m1 0h6m5 0h1m1 0h1m1 0h1m5 0h1m1 0h1m1 0h2m4 0h2m1 0h2m9 0h1m9 0h1M415 348.5h1m3 0h1m6 0h1m1 0h1m2 0h2m1 0h4m5 0h1m3 0h1m1 0h1m5 0h1m1 0h1m3 0h1m2 0h5m1 0h2m1 0h1m1 0h1m1 0h1m2 0h1m3 0h1m4 0h4m2 0h3m6 0h1m1 0h2m7 0h1m5 0h1m2 0h1M416 349.5h1m2 0h1m2 0h1m4 0h1m3 0h1m3 0h1m10 0h1m8 0h1m1 0h1m3 0h1m1 0h1m5 0h1m2 0h1m1 0h2m1 0h2m9 0h1m3 0h1m1 0h1m2 0h2m6 0h4m15 0h1M415 350.5h1m3 0h1m7 0h1m3 0h1m1 0h2m9 0h1m6 0h1m9 0h1m3 0h2m1 0h2m3 0h2m1 0h1m1 0h1m2 0h1m2 0h2m1 0h3m2 0h2m1 0h4m6 0h1m1 0h1m2 0h1m2 0h1m3 0h1m2 0h1m1 0h2M412 351.5h1m6 0h1m1 0h1m6 0h1m2 0h1m10 0h3m1 0h2m4 0h2m2 0h1m2 0h1m1 0h1m7 0h1m1 0h1m2 0h1m1 0h1m4 0h2m2 0h1m1 0h1m1 0h5m2 0h1m1 0h1m1 0h1m7 0h1m2 0h2m8 0h1M412 352.5h1m11 0h1m5 0h1m10 0h1m10 0h1m1 0h1m3 0h4m1 0h1m4 0h1m1 0h3m6 0h1m1 0h1m4 0h2m4 0h9m2 0h1m3 0h2m1 0h3m7 0h2m8 0h1M414 353.5h1m4 0h1m1 0h1m9 0h1m1 0h2m7 0h1m2 0h3m11 0h1m2 0h1m1 0h1m7 0h3m1 0h1m11 0h1m5 0h1m2 0h1m1 0h1m3 0h1m4 0h3m2 0h1m10 0h1M410 354.5h1m1 0h1m2 0h2m4 0h1m14 0h2m2 0h1m11 0h2m6 0h1m7 0h1m1 0h1m3 0h1m3 0h1m9 0h1m2 0h1m1 0h1m1 0h1m3 0h1m1 0h1m1 0h2m6 0h3m1 0h1m6 0h1m4 0h1M434 355.5h1m14 0h1m1 0h1m3 0h1m3 0h3m4 0h1m10 0h1m10 0h1m4 0h2m1 0h1m3 0h1m2 0h3m4 0h1m1 0h2M408 356.5h2m9 0h3m11 0h1m5 0h1m4 0h1m3 0h2m1 0h1m3 0h1m5 0h1m3 0h1m1 0h1m8 0h1m7 0h6m2 0h1m2 0h4m5 0h2m1 0h1m3 0h1m3 0h1m1 0h1m2 0h2m6 0h1M411 357.5h1m1 0h1m3 0h1m13 0h1m4 0h2m1 0h1m12 0h1m3 0h1m6 0h2m1 0h1m5 0h1m2 0h1m1 0h1m11 0h1m1 0h1m1 0h1m4 0h3m3 0h4m5 0h1m2 0h1m6 0h1m2 0h2m2 0h1M412 358.5h1m2 0h1m13 0h2m1 0h1m2 0h1m7 0h1m2 0h1m5 0h1m2 0h2m1 0h1m1 0h1m2 0h3m1 0h1m4 0h2m7 0h1m4 0h2m2 0h1m5 0h1m3 0h5m1 0h1m1 0h2m3 0h1m2 0h1m1 0h2m1 0h1M409 359.5h1m28 0h1m1 0h1m13 0h1m8 0h3m3 0h2m3 0h1m3 0h1m1 0h1m3 0h2m5 0h1m5 0h1m1 0h1m1 0h2m5 0h2m4 0h3m2 0h2M411 360.5h3m4 0h2m9 0h1m2 0h1m2 0h2m5 0h2m10 0h1m1 0h1m1 0h1m7 0h2m3 0h1m3 0h2m1 0h3m1 0h2m7 0h1m2 0h1m2 0h1m2 0h4m1 0h3m2 0h1m4 0h4m2 0h1m2 0h1m4 0h1M413 361.5h1m3 0h1m3 0h1m1 0h1m6 0h1m3 0h1m3 0h1m2 0h1m11 0h1m2 0h1m15 0h1m4 0h1m5 0h2m2 0h1m1 0h2m1 0h1m1 0h1m6 0h1m1 0h1m2 0h7m3 0h2m1 0h2m1 0h2m2 0h1M418 362.5h2m1 0h1m8 0h1m4 0h3m4 0h1m3 0h4m8 0h2m4 0h1m3 0h3m3 0h1m1 0h1m3 0h3m1 0h1m4 0h1m1 0h1m4 0h1m1 0h1m3 0h2m1 0h1m1 0h1m9 0h4m1 0h3m2 0h1m2 0h1M411 363.5h1m5 0h1m7 0h3m8 0h1m1 0h1m9 0h1m19 0h3m1 0h1m6 0h1m1 0h1m4 0h1m1 0h1m3 0h1m6 0h1m4 0h2m2 0h3m1 0h1m7 0h1m4 0h1m3 0h1M408 364.5h1m5 0h2m5 0h2m1 0h1m7 0h1m2 0h1m1 0h2m1 0h1m2 0h1m5 0h1m3 0h1m1 0h1m7 0h1m4 0h1m1 0h1m2 0h1m22 0h5m4 0h1m1 0h1m2 0h3m6 0h2m2 0h1m6 0h2M415 365.5h1m15 0h1m7 0h1m1 0h1m1 0h2m9 0h2m5 0h1m7 0h1m2 0h2m3 0h2m4 0h5m2 0h2m2 0h1m2 0h1m7 0h1m1 0h2m1 0h1m1 0h2m2 0h1m3 0h2m3 0h1m2 0h1M419 366.5h1m5 0h1m12 0h1m1 0h3m7 0h1m3 0h2m6 0h1m2 0h1m7 0h3m3 0h1m1 0h2m1 0h1m3 0h1m3 0h1m1 0h1m1 0h1m5 0h1m2 0h1m4 0h3m1 0h2m1 0h1m3 0h2m5 0h1m1 0h1M414 367.5h1m4 0h1m1 0h1m1 0h1m1 0h3m12 0h1m1 0h1m4 0h1m15 0h1m3 0h1m7 0h4m4 0h1m1 0h2m3 0h1m3 0h1m1 0h1m1 0h2m1 0h1m1 0h1m1 0h2m4 0h1m3 0h3m4 0h3m1 0h1M437 368.5h1m1 0h1m5 0h1m7 0h1m7 0h1m2 0h1m1 0h1m5 0h1m1 0h1m1 0h2m1 0h1m7 0h3m2 0h1m2 0h1m1 0h4m3 0h2m1 0h1m1 0h2m1 0h2m1 0h1m1 0h1m5 0h3m1 0h1m3 0h1M417 369.5h1m3 0h1m8 0h1m2 0h1m4 0h2m8 0h1m3 0h1m4 0h2m4 0h1m15 0h1m3 0h1m3 0h1m4 0h2m4 0h1m2 0h1m1 0h1m3 0h2m4 0h2m1 0h2m1 0h2m3 0h1m1 0h1m1 0h1m1 0h1M424 370.5h1m1 0h1m5 0h1m3 0h4m4 0h1m3 0h1m3 0h1m4 0h1m2 0h1m3 0h2m5 0h1m3 0h1m1 0h1m1 0h1m2 0h2m1 0h1m2 0h3m2 0h1m1 0h1m1 0h1m1 0h1m1 0h1m3 0h1m1 0h4m1 0h1m1 0h1m1 0h1m2 0h3m3 0h1m2 0h1M412 371.5h1m7 0h2m7 0h1m1 0h1m2 0h1m3 0h1m2 0h1m12 0h1m6 0h3m3 0h1m7 0h1m3 0h1m2 0h1m4 0h2m3 0h2m5 0h3m5 0h1m1 0h3m1 0h2m2 0h2m1 0h2m7 0h1M409 372.5h1m3 0h1m2 0h1m12 0h1m4 0h2m4 0h1m6 0h1m4 0h1m7 0h1m3 0h1m1 0h1m6 0h1m9 0h1m4 0h1m5 0h1m3 0h2m1 0h1m1 0h1m3 0h1m1 0h1m4 0h1m1 0h1m4 0h1m7 0h2M414 373.5h1m13 0h1m10 0h1m5 0h1m12 0h1m6 0h1m9 0h1m1 0h2m2 0h1m1 0h2m2 0h1m1 0h2m1 0h1m2 0h1m2 0h1m1 0h3m2 0h2m2 0h2m2 0h1m2 0h1m1 0h1m1 0h2M418 374.5h2m4 0h1m4 0h1m3 0h1m9 0h1m7 0h1m12 0h1m2 0h3m2 0h1m6 0h1m4 0h2m5 0h1m2 0h1m1 0h1m1 0h1m3 0h2m1 0h1m1 0h1m2 0h1m1 0h1m1 0h6M421 375.5h2m2 0h1m1 0h1m10 0h1m7 0h1m4 0h1m1 0h1m1 0h2m1 0h1m3 0h1m2 0h1m16 0h1m3 0h1m3 0h1m2 0h1m6 0h1m2 0h1m3 0h1m5 0h1m1 0h1m1 0h2M419 376.5h1m4 0h1m26 0h1m7 0h1m2 0h1m5 0h1m7 0h1m3 0h1m7 0h1m1 0h1m4 0h1m5 0h1m5 0h2m1 0h2m2 0h1m2 0h2m3 0h1M411 377.5h1m3 0h4m6 0h1m1 0h2m4 0h1m6 0h2m2 0h1m2 0h2m11 0h1m2 0h1m4 0h1m3 0h1m3 0h1m4 0h1m2 0h2m3 0h1m4 0h2m1 0h1m1 0h3m1 0h1m4 0h1m2 0h1m1 0h5m1 0h2m6 0h2M416 378.5h1m12 0h1m25 0h1m2 0h1m4 0h2m4 0h1m4 0h1m4 0h1m5 0h1m2 0h1m2 0h1m2 0h1m9 0h1m1 0h1m6 0h1m1 0h1m2 0h4" stroke="#ed1c24" stroke-opacity="0.12" stroke-width="1" fill="none"/>
<path d="M410 257.5h2M408 258.5h2m1 0h3M410 259.5h1m1 0h2M408 260.5h1m9 0h1M410 261.5h1m1 0h1m1 0h1M410 262.5h1m2 0h1m1 0h2M411 263.5h1m4 0h1M411 264.5h3m3 0h1m3 0h1M418 265.5h1m1 0h1M408 266.5h1m1 0h4m2 0h2m1 0h1m3 0h1M412 267.5h1m3 0h3m1 0h2m1 0h1m1 0h1m10 0h1m11 0h1m4 0h1m4 0h1m4 0h1m14 0h2m4 0h1m5 0h2m21 0h1M415 268.5h1M412 269.5h1m3 0h2m4 0h1m2 0h1m3 0h1M414 270.5h1m3 0h1m4 0h2m4 0h1M420 271.5h1m3 0h1m3 0h1M425 272.5h1m3 0h2M420 273.5h1m5 0h1m4 0h1M422 274.5h1m5 0h1m1 0h1m1 0h1m1 0h1M419 275.5h1m1 0h1m8 0h1m8 0h1M427 276.5h1m2 0h3M417 277.5h1m13 0h1m2 0h1M413 278.5h1m6 0h1m10 0h1m3 0h1M413 279.5h1m5 0h1m1 0h1m8 0h1m1 0h2M423 280.5h1m10 0h2M420 281.5h4m5 0h1M420 282.5h2m1 0h2m12 0h1m3 0h1M425 283.5h1m3 0h1m6 0h1m35 0h1M421 284.5h4m2 0h2m4 0h1m3 0h1m1 0h1M421 285.5h1m1 0h1m4 0h2M420 286.5h2m1 0h2m11 0h1M419 287.5h2m2 0h1m2 0h2m2 0h2m6 0h1m3 0h1M426 288.5h1m1 0h2m1 0h1m1 0h2m1 0h1M424 289.5h1m18 0h1M423 290.5h1m9 0h1m3 0h1M419 291.5h1m17 0h1m1 0h2m1 0h1m6 0h1M428 292.5h1m11 0h1M414 293.5h1m4 0h1M425 294.5h1m14 0h1m1 0h1m5 0h1M419 295.5h1m21 0h1m2 0h1m1 0h1m2 0h2M419 296.5h1m22 0h1M441 297.5h2m1 0h3m1 0h1m3 0h1M419 298.5h1m19 0h1m3 0h1m2 0h1M441 299.5h1m3 0h3m2 0h1m2 0h2M445 300.5h1m1 0h2M443 301.5h2m1 0h3m22 0h1M433 302.5h1m13 0h2m3 0h2M444 303.5h1m6 0h1m2 0h1m2 0h1M441 304.5h1m5 0h1m1 0h1m2 0h1m2 0h1m2 0h1m3 0h1M444 306.5h1m7 0h1m4 0h1m2 0h1M419 307.5h1m21 0h1M419 308.5h1m30 0h1m8 0h1m3 0h1M471 309.5h1M447 310.5h1m6 0h1m3 0h1m1 0h2M419 311.5h1m31 0h1m10 0h1M441 312.5h1m21 0h1m7 0h1M459 313.5h1m2 0h1m1 0h1M419 314.5h1m29 0h1m12 0h1m1 0h2M441 315.5h1m27 0h1m1 0h2M419 316.5h1m44 0h4m2 0h1M441 317.5h1m21 0h1m1 0h1m2 0h1m2 0h1M441 318.5h1M419 319.5h1m41 0h1m2 0h1m1 0h1m11 0h1M457 320.5h1m9 0h2m5 0h1M462 321.5h1m6 0h1m5 0h1m1 0h1m1 0h1M462 322.5h1m10 0h1m2 0h2M469 323.5h2m3 0h1m2 0h1M419 324.5h1m54 0h2m2 0h1m6 0h1M474 325.5h1m1 0h1m2 0h1M436 326.5h1m36 0h1m3 0h1m2 0h1M481 327.5h1M475 328.5h1m6 0h1M419 329.5h1m29 0h1m29 0h1m3 0h1M469 330.5h1m10 0h1m3 0h1M441 331.5h1m9 0h1m26 0h1m2 0h2m2 0h1M419 332.5h1m39 0h1m15 0h1m3 0h1m3 0h1m2 0h1M476 333.5h1m4 0h1m2 0h1m2 0h1M419 334.5h1m56 0h1m3 0h1m3 0h2m2 0h1M441 335.5h1m41 0h1m1 0h1m3 0h1M441 336.5h1m43 0h1m4 0h1M483 337.5h2m6 0h2M487 338.5h2m3 0h1M488 339.5h1M491 340.5h1m2 0h1M441 341.5h1m48 0h1m1 0h1m2 0h1M441 342.5h1m51 0h1m2 0h1M419 343.5h1m21 0h1m17 0h1m18 0h1m12 0h1m5 0h1m2 0h1M419 344.5h1m21 0h1m52 0h1m3 0h2M494 345.5h1m4 0h1M441 346.5h1m31 0h1m15 0h2m5 0h1m3 0h1M494 347.5h1m1 0h1m4 0h2M474 348.5h1m18 0h1m8 0h2M491 349.5h1m4 0h1m2 0h3m1 0h1M452 350.5h1m46 0h3m2 0h1m1 0h1M441 351.5h1m57 0h1m2 0h2m1 0h1M419 352.5h1m84 0h1m1 0h1M491 353.5h1m9 0h2m1 0h2m1 0h1M419 354.5h1m85 0h2m1 0h1M419 355.5h1m20 0h2m60 0h1m6 0h1M423 356.5h1m77 0h2m3 0h1m1 0h1m1 0h1M441 357.5h1m59 0h1m1 0h1m5 0h1m2 0h1M505 358.5h1m1 0h1m4 0h1m1 0h2M419 359.5h1m21 0h1m64 0h1m3 0h1M441 360.5h1m10 0h1m59 0h1m1 0h1M419 361.5h1m80 0h1m3 0h2m7 0h1m1 0h1M441 362.5h1m62 0h1m3 0h1m4 0h2m1 0h1M419 363.5h1m21 0h1m69 0h1m2 0h1m2 0h2M419 364.5h1m21 0h1m67 0h1m3 0h4m1 0h1M419 365.5h1m95 0h1m1 0h1m8 0h1M509 366.5h1m6 0h1m1 0h1m1 0h1M438 367.5h1m68 0h1m5 0h1m5 0h1m1 0h1M511 368.5h1m6 0h1m1 0h1m1 0h1M441 369.5h1m79 0h1m1 0h1M419 370.5h1m21 0h1m73 0h1m8 0h1m1 0h1m2 0h1M516 371.5h1m2 0h1m7 0h1M419 372.5h1m93 0h1m10 0h1m3 0h1M419 373.5h1m74 0h1m20 0h1m3 0h1M521 374.5h1M521 375.5h1m8 0h1M419 377.5h1m103 0h1m7 0h1M419 378.5h1m91 0h1m16 0h1m1 0h1" stroke="#ed1c24" stroke-opacity="0.25" stroke-width="1" fill="none"/>
<path d="M409 256.5h1M408 257.5h1M410 260.5h2M409 261.5h1M409 262.5h1M412 263.5h1M409 264.5h1m4 0h2M412 265.5h1m3 0h1M408 267.5h1m4 0h1m1 0h1m8 0h1m24 0h1m1 0h1M414 268.5h1m6 0h1M415 269.5h1m3 0h1M426 270.5h1M422 271.5h1m2 0h1m5 0h1M427 272.5h1M424 274.5h1m2 0h1M428 275.5h2M424 276.5h1M421 277.5h2m13 0h1M433 278.5h1M422 279.5h2m1 0h1m8 0h1M422 280.5h1m1 0h1m1 0h2m1 0h1m6 0h1M434 281.5h3M419 282.5h1m12 0h1M423 283.5h2m1 0h3m10 0h1M420 284.5h1m5 0h1m2 0h3m3 0h1M425 285.5h2m4 0h1m2 0h1m4 0h1M429 286.5h2m3 0h2M422 287.5h1m1 0h1m3 0h1m3 0h3m1 0h1m4 0h1M420 288.5h1m9 0h1m7 0h1M431 289.5h1M419 290.5h2m1 0h1m9 0h1M438 291.5h1m2 0h1M419 292.5h1m22 0h1M441 293.5h1M441 294.5h1M442 295.5h1M444 296.5h1m1 0h1M419 297.5h1m23 0h1m3 0h1M444 298.5h1m2 0h1M449 299.5h1M449 300.5h1m1 0h1M445 301.5h1m4 0h2M419 302.5h1m36 0h1M419 303.5h1m32 0h1M453 304.5h1M449 307.5h1m7 0h2M441 308.5h1M460 311.5h2M461 312.5h1M441 313.5h1M472 314.5h1M462 315.5h1m3 0h1M469 318.5h1M473 319.5h2M471 320.5h1M468 321.5h1M419 325.5h1m21 0h1m31 0h1M441 327.5h1m36 0h1M419 328.5h1M478 330.5h1M480 331.5h1M483 333.5h1M441 334.5h1M419 336.5h1m67 0h1M419 337.5h1m68 0h1M489 339.5h1m3 0h1M492 342.5h1M441 345.5h1M419 346.5h1M498 348.5h1M441 350.5h1m60 0h1M501 352.5h2M441 353.5h1M506 355.5h1M511 357.5h1M510 358.5h1M511 359.5h1m1 0h1M509 360.5h1m1 0h1M515 363.5h1M519 365.5h1M441 367.5h1m76 0h1M441 368.5h1M518 369.5h1M517 370.5h1m13 0h1M526 371.5h1m1 0h1M522 372.5h1m4 0h1M524 373.5h1m2 0h1m2 0h1M441 374.5h1m78 0h1m3 0h2m3 0h2M419 375.5h1m21 0h1m80 0h1m1 0h1m1 0h1M526 376.5h1m4 0h1M526 377.5h1m2 0h1M441 378.5h1" stroke="#ed1c24" stroke-opacity="0.42" stroke-width="1" fill="none"/>
<path d="M408 256.5h1M409 257.5h1M410 258.5h1M411 259.5h1M412 260.5h2M411 261.5h1m1 0h1M414 262.5h1M414 263.5h2M416 264.5h1M417 265.5h1M418 266.5h1M419 267.5h1M420 268.5h1M422 270.5h1M423 272.5h2M427 273.5h1M419 274.5h3M420 275.5h1m5 0h2M419 276.5h1m9 0h1M419 277.5h1m3 0h2m4 0h1M424 278.5h2M426 279.5h3m2 0h1M432 280.5h2M419 281.5h1m4 0h1m1 0h1M435 282.5h1M420 283.5h1m1 0h1m7 0h1m2 0h1m3 0h1M432 284.5h1m3 0h1M430 285.5h1m4 0h1m1 0h2M419 286.5h1m19 0h1M429 287.5h1m5 0h1m4 0h1M421 288.5h1m1 0h1m8 0h1m4 0h1m3 0h1M442 289.5h1M421 290.5h1m4 0h1m2 0h1m13 0h1M443 291.5h2M441 292.5h1m3 0h1M445 293.5h2M444 294.5h1m1 0h2M445 295.5h1m1 0h2M445 296.5h1m1 0h1m1 0h1M449 297.5h2M445 298.5h1m4 0h2M451 299.5h2M453 300.5h1M449 301.5h1m3 0h2M454 302.5h2M455 303.5h2M456 304.5h2M456 305.5h3M458 306.5h2M459 307.5h2M460 308.5h2M460 309.5h3M462 310.5h2M463 311.5h1M419 312.5h1m44 0h2M465 313.5h2M441 314.5h1m24 0h2M467 315.5h2M468 316.5h2M469 317.5h2M470 318.5h3M441 319.5h1m29 0h2M472 320.5h2M473 321.5h2M474 322.5h2M475 323.5h2M476 324.5h2M475 325.5h1m1 0h2M478 326.5h2M479 327.5h2M480 328.5h2M441 329.5h1m39 0h2M481 330.5h3M483 331.5h2M484 332.5h2M485 333.5h2M486 334.5h2M487 335.5h2M488 336.5h2M489 337.5h2M490 338.5h2M441 339.5h1m49 0h2M492 340.5h2M493 341.5h2M494 342.5h2M495 343.5h2M496 344.5h2M496 345.5h3M498 346.5h2M441 347.5h1m57 0h2M441 348.5h1m58 0h2M441 349.5h1m60 0h1M503 350.5h1M501 351.5h1m2 0h1M505 352.5h1M506 353.5h1M507 354.5h1M507 355.5h2M441 356.5h1m67 0h1M419 357.5h1m88 0h1m1 0h1M419 358.5h1m21 0h1m69 0h1M512 359.5h1M513 360.5h1M514 361.5h1M515 362.5h1M516 363.5h1M517 364.5h1M518 365.5h1M519 366.5h1M520 367.5h1M419 368.5h1m101 0h1M522 369.5h1M523 370.5h1m6 0h1M524 371.5h2m4 0h1M441 372.5h1m83 0h2M525 373.5h2m2 0h1m1 0h1M522 374.5h2m4 0h1M523 375.5h1m4 0h1M523 376.5h1M522 377.5h1m7 0h1M526 378.5h1m4 0h1" stroke="#ed1c24" stroke-opacity="0.62" stroke-width="1" fill="none"/>
<path d="M411 265.5h1M419 268.5h1M420 269.5h2M419 270.5h3M419 271.5h1m1 0h1m1 0h1m2 0h1M419 272.5h4M421 273.5h5m2 0h1M423 274.5h1m1 0h2M422 275.5h1m1 0h2M420 276.5h4m1 0h2m1 0h1M420 277.5h1m4 0h4m1 0h1M419 278.5h1m1 0h3m2 0h5M420 279.5h1m3 0h1m4 0h1M420 280.5h1m9 0h2M425 281.5h1m1 0h1m2 0h4M422 282.5h1m2 0h7m1 0h2M419 283.5h1m11 0h2m1 0h2M419 284.5h1m5 0h1m8 0h1M419 285.5h2m1 0h1m4 0h1m4 0h2m2 0h1M422 286.5h1m2 0h4m2 0h3m3 0h2M425 287.5h1m11 0h1m1 0h1M419 288.5h1m2 0h1m1 0h2m9 0h1m3 0h2M419 289.5h5m1 0h6m2 0h9M424 290.5h2m1 0h2m1 0h2m2 0h3m2 0h4M443 292.5h2M442 293.5h3M445 294.5h1M448 296.5h1M441 298.5h1m7 0h1M450 300.5h1m1 0h1M452 301.5h1M464 311.5h1M441 332.5h1M441 337.5h1M522 370.5h1M522 371.5h2m7 0h1M523 372.5h1m7 0h1M441 373.5h1m80 0h2m4 0h1M526 374.5h2m3 0h1M525 375.5h1m1 0h1m1 0h1m1 0h1M524 376.5h2m2 0h3M524 377.5h2M522 378.5h4m1 0h1m1 0h1" stroke="#ed1c24" stroke-opacity="0.85" stroke-width="1" fill="none"/></g>
<rect x="562.00" y="256.00" width="123.00" height="122.00" fill="#e7e7e7"/>
<g filter="url(#hb)"><path d="M563 256.5h1m61 0h1M564 257.5h3m1 0h1m5 0h1m19 0h1M565 258.5h1m1 0h1m2 0h1m5 0h1m8 0h1m7 0h1m41 0h1m30 0h1m3 0h1m3 0h1m5 0h1M563 259.5h1m4 0h2m5 0h1m17 0h1m37 0h1m21 0h1M567 260.5h1m3 0h1m5 0h1m14 0h1m20 0h1m8 0h1m53 0h1M564 261.5h1m1 0h1m2 0h1m3 0h1M562 262.5h2m1 0h2m2 0h1m29 0h1m43 0h1M562 263.5h5m1 0h1m1 0h1m30 0h1m12 0h1m37 0h1m10 0h1M563 264.5h3m5 0h2m65 0h1m2 0h1m26 0h1m5 0h1M563 265.5h4m1 0h1m5 0h3m16 0h1M562 266.5h4m1 0h2m2 0h1m1 0h2m60 0h1m38 0h1M565 267.5h3m1 0h3m2 0h4m7 0h1M566 268.5h1m4 0h2m2 0h1m4 0h1m19 0h2m8 0h1m1 0h1M562 269.5h3m2 0h6m1 0h1m1 0h3m6 0h1m44 0h1m27 0h1m7 0h1m14 0h1M562 270.5h1m3 0h2m2 0h2m5 0h5m22 0h1m66 0h1M562 271.5h3m1 0h1m2 0h5m2 0h1m2 0h1m1 0h1m79 0h1m8 0h1m5 0h1M562 272.5h1m1 0h1m4 0h2m1 0h4m3 0h3m2 0h1m40 0h1m57 0h1M569 273.5h1m1 0h1m1 0h3m1 0h1m2 0h1m1 0h2m3 0h1m66 0h1m1 0h1M567 274.5h2m3 0h1m4 0h3m1 0h4m12 0h1m1 0h1m15 0h1m15 0h1M566 275.5h1m1 0h1m1 0h1m4 0h1m1 0h2m1 0h1m3 0h2m31 0h1m49 0h1M563 276.5h1m4 0h1m2 0h1m4 0h1m1 0h1m11 0h1m2 0h1m5 0h2m2 0h1m1 0h1m1 0h2m1 0h1m8 0h2M568 277.5h1m1 0h2m2 0h1m1 0h4m5 0h1m44 0h1m31 0h1M565 278.5h2m1 0h2m1 0h1m1 0h3m2 0h1m4 0h1m1 0h2m23 0h1m57 0h1M563 279.5h1m5 0h2m1 0h1m2 0h3m1 0h3m4 0h1m9 0h1m2 0h1m22 0h1m32 0h1m25 0h1M566 280.5h1m2 0h1m3 0h1m1 0h4m1 0h1m6 0h1m1 0h1m1 0h1M567 281.5h2m1 0h1m1 0h3m3 0h1m5 0h1m5 0h2m67 0h1M563 282.5h1m1 0h2m5 0h2m2 0h3m3 0h3m4 0h3m9 0h1m10 0h1m42 0h1M563 283.5h1m3 0h1m1 0h2m4 0h1m4 0h2m1 0h1m4 0h1m1 0h1m1 0h2m54 0h1m5 0h1m21 0h1M565 284.5h3m5 0h1m5 0h3m2 0h1m1 0h3m4 0h2m2 0h1m45 0h1m3 0h1m33 0h1m2 0h1M565 285.5h1m3 0h1m2 0h2m7 0h1m1 0h4m3 0h1m1 0h2m6 0h1m54 0h1M567 286.5h2m4 0h1m1 0h2m1 0h1m3 0h2m1 0h2m3 0h1m3 0h3m8 0h1m69 0h1M569 287.5h1m2 0h1m3 0h2m7 0h1m2 0h5m3 0h3m4 0h1m46 0h1m4 0h1m11 0h1M564 288.5h1m8 0h1m1 0h1m1 0h1m2 0h1m1 0h4m1 0h7m2 0h3m2 0h1m13 0h1m23 0h1m6 0h1M573 289.5h1m2 0h1m2 0h3m4 0h2m1 0h2m3 0h1m2 0h2m2 0h1m13 0h1m11 0h1m34 0h1M562 290.5h1m1 0h1m3 0h1m12 0h2m4 0h1m3 0h1m2 0h2m2 0h1M571 291.5h1m3 0h1m2 0h1m2 0h1m1 0h1m2 0h1m3 0h1m1 0h1m1 0h3m4 0h1m45 0h1m6 0h1m27 0h1M565 292.5h4m4 0h3m2 0h3m5 0h2m2 0h1m4 0h3m3 0h1m1 0h1m1 0h1m3 0h1m44 0h1M568 293.5h1m3 0h2m8 0h2m2 0h3m1 0h1m2 0h1m4 0h1m22 0h1m50 0h1M568 294.5h2m6 0h1m1 0h1m1 0h2m1 0h1m1 0h1m1 0h1m4 0h3m1 0h1m2 0h1m3 0h2M568 295.5h1m10 0h1m2 0h1m3 0h1m1 0h1m3 0h2m2 0h5m2 0h1m23 0h1m35 0h1m5 0h1M569 296.5h3m8 0h1m5 0h1m2 0h4m2 0h3m1 0h1m1 0h1m5 0h1m11 0h1M564 297.5h2m7 0h1m2 0h1m4 0h2m3 0h1m1 0h1m3 0h4m1 0h3m7 0h1m5 0h1m61 0h1M567 298.5h1m8 0h1m5 0h1m7 0h1m1 0h1m3 0h3m1 0h2m1 0h1m2 0h3m3 0h2m1 0h1m4 0h1M565 299.5h1m2 0h1m4 0h1m1 0h1m5 0h1m2 0h3m1 0h7m2 0h1m2 0h4m3 0h1m2 0h3m1 0h1m1 0h1m2 0h1m10 0h1m8 0h1M564 300.5h1m9 0h1m6 0h2m7 0h1m3 0h1m1 0h4m1 0h1m1 0h1m1 0h1m5 0h2m5 0h1m26 0h1M564 301.5h1m1 0h1m7 0h1m7 0h1m6 0h1m2 0h1m1 0h4m1 0h2m1 0h1m9 0h3M563 302.5h1m18 0h1m3 0h1m3 0h3m1 0h1m2 0h1m4 0h2m6 0h1m2 0h1m2 0h1m39 0h1m23 0h1M572 303.5h1m2 0h1m3 0h1m2 0h1m1 0h1m2 0h2m1 0h2m5 0h1m1 0h1m1 0h1m1 0h1m8 0h5m6 0h1m14 0h1M563 304.5h1m12 0h1m4 0h2m2 0h2m1 0h1m1 0h1m2 0h1m1 0h1m1 0h1m1 0h2m2 0h1m8 0h1m4 0h2m6 0h1M566 305.5h2m1 0h2m1 0h1m5 0h1m2 0h2m11 0h2m3 0h3m2 0h2m1 0h1m5 0h4m1 0h1m1 0h2m5 0h1m3 0h1m2 0h1m12 0h1m12 0h1m6 0h1M563 306.5h1m2 0h2m7 0h2m4 0h1m4 0h2m5 0h2m3 0h2m4 0h1m1 0h1m7 0h4m2 0h1m14 0h1m17 0h1M568 307.5h1m3 0h1m1 0h2m5 0h1m1 0h3m7 0h1m2 0h1m5 0h1m1 0h2m5 0h2m3 0h5m2 0h1m2 0h1m1 0h1M575 308.5h1m8 0h1m2 0h1m2 0h1m2 0h1m1 0h1m11 0h1m1 0h1m1 0h1m1 0h1m2 0h3m1 0h1m2 0h1m1 0h2m32 0h1M576 309.5h1m2 0h1m1 0h3m2 0h1m4 0h3m9 0h2m7 0h1m4 0h4m15 0h1m4 0h1M562 310.5h1m10 0h1m6 0h3m7 0h2m1 0h1m1 0h4m3 0h2m4 0h1m6 0h1m3 0h1m2 0h1m1 0h2m48 0h1M574 311.5h1m6 0h1m6 0h2m4 0h1m1 0h1m3 0h2m1 0h3m1 0h1m2 0h2m1 0h1m2 0h1m2 0h2m1 0h1m1 0h1m1 0h2M562 312.5h1m14 0h1m2 0h1m1 0h1m1 0h1m9 0h1m2 0h1m1 0h1m2 0h1m1 0h4m4 0h1m2 0h1m5 0h4m12 0h1M571 313.5h1m2 0h2m9 0h1m3 0h2m5 0h1m3 0h3m1 0h1m11 0h1m4 0h3m7 0h2m10 0h1M566 314.5h1m8 0h2m1 0h1m3 0h1m1 0h1m1 0h1m2 0h1m10 0h3m1 0h1m2 0h1m1 0h1m1 0h1m1 0h1m1 0h1m8 0h1m1 0h1m14 0h1m14 0h1M566 315.5h1m10 0h1m3 0h2m1 0h1m7 0h4m2 0h1m3 0h1m1 0h2m1 0h1m1 0h1m1 0h1m5 0h1m5 0h1m3 0h1m2 0h1m37 0h1m13 0h1M574 316.5h1m3 0h1m13 0h1m1 0h1m5 0h1m1 0h1m1 0h2m3 0h1m14 0h1m1 0h3m5 0h1m4 0h1M565 317.5h1m6 0h1m8 0h1m2 0h3m6 0h1m1 0h1m5 0h1m2 0h6m5 0h1m2 0h1m6 0h2m2 0h4m3 0h1m10 0h1M564 318.5h1m16 0h1m2 0h1m4 0h1m1 0h1m5 0h1m3 0h1m1 0h1m1 0h1m1 0h1m2 0h1m1 0h4m10 0h1m3 0h2m2 0h2M572 319.5h1m8 0h1m3 0h1m3 0h2m9 0h1m3 0h3m3 0h2m1 0h3m12 0h1m1 0h1m1 0h2m6 0h1m10 0h1M568 320.5h1m3 0h1m8 0h1m3 0h1m6 0h1m6 0h4m2 0h1m1 0h1m1 0h2m2 0h2m13 0h1m1 0h2m2 0h1m14 0h1M571 321.5h1m4 0h1m4 0h1m9 0h2m1 0h1m8 0h2m3 0h1m1 0h1m3 0h2m14 0h1m1 0h1m1 0h1m3 0h2M578 322.5h1m2 0h1m2 0h1m5 0h1m6 0h1m6 0h3m1 0h4m1 0h2m2 0h1m12 0h1m1 0h2m1 0h1m1 0h1M565 323.5h1m1 0h1m14 0h1m6 0h1m6 0h3m1 0h1m2 0h1m3 0h1m1 0h2m1 0h2m2 0h1m5 0h1m1 0h1m6 0h2m2 0h1m1 0h1m1 0h1m13 0h1M562 324.5h1m1 0h1m1 0h1m6 0h2m7 0h1m1 0h1m7 0h1m1 0h1m6 0h3m2 0h3m2 0h1m1 0h2m3 0h1m1 0h1m6 0h1m4 0h1m1 0h3M575 325.5h1m1 0h1m3 0h1m11 0h5m2 0h1m5 0h3m1 0h2m2 0h4m1 0h1m8 0h1m6 0h1m2 0h3m25 0h1m8 0h1M572 326.5h1m2 0h1m6 0h1m14 0h1m5 0h2m2 0h1m1 0h1m3 0h2m1 0h4m14 0h1m1 0h1m4 0h1m24 0h1M579 327.5h1m6 0h1m5 0h2m1 0h1m6 0h1m1 0h2m1 0h1m1 0h1m3 0h1m1 0h1m2 0h1m1 0h2m16 0h1m2 0h1m15 0h1M573 328.5h1m5 0h4m2 0h1m4 0h1m13 0h2m1 0h5m1 0h4m1 0h1m2 0h1m14 0h1m1 0h2m1 0h1m2 0h1M563 329.5h1m2 0h1m4 0h1m19 0h1m3 0h2m1 0h1m6 0h2m1 0h2m1 0h2m3 0h2m3 0h1m16 0h7m1 0h1m12 0h1M571 330.5h2m1 0h1m13 0h1m1 0h2m1 0h1m1 0h2m12 0h2m3 0h1m1 0h2m1 0h1m1 0h1m1 0h2m8 0h1m4 0h2m3 0h1M579 331.5h2m1 0h1m1 0h1m2 0h2m4 0h1m8 0h1m1 0h1m1 0h1m1 0h1m2 0h1m1 0h2m1 0h1m2 0h1m4 0h2m14 0h1m1 0h1m3 0h1m9 0h1M564 332.5h1m16 0h3m3 0h1m3 0h2m12 0h2m1 0h2m1 0h5m6 0h1m4 0h1m9 0h1m2 0h7M581 333.5h2m13 0h4m2 0h1m3 0h2m1 0h2m18 0h1m11 0h1m1 0h1m1 0h2m2 0h1m1 0h1M574 334.5h1m6 0h1m3 0h1m5 0h1m5 0h1m4 0h1m3 0h1m1 0h2m2 0h1m2 0h1m1 0h1m20 0h1m3 0h3m1 0h1M563 335.5h1m17 0h1m1 0h1m1 0h1m3 0h1m5 0h1m1 0h1m1 0h1m1 0h1m2 0h5m2 0h2m1 0h1m1 0h1m2 0h1m2 0h2m1 0h1m1 0h1m1 0h1m2 0h2m9 0h1m1 0h1m4 0h1m6 0h1m11 0h1m4 0h1M581 336.5h1m23 0h1m1 0h1m2 0h1m2 0h1m3 0h1m1 0h2m1 0h1m5 0h1m7 0h1m15 0h1M562 337.5h1m10 0h1m7 0h1m5 0h1m3 0h1m1 0h1m9 0h1m2 0h1m3 0h1m1 0h2m5 0h2m1 0h1m5 0h3m5 0h2m1 0h1m6 0h1m2 0h1m16 0h1M565 338.5h1m13 0h1m4 0h1m17 0h1m1 0h1m4 0h1m1 0h1m2 0h1m1 0h2m2 0h1m2 0h1m3 0h1m6 0h1m4 0h1m6 0h1m1 0h1m1 0h1M568 339.5h1m1 0h1m10 0h1m7 0h1m8 0h1m5 0h2m1 0h4m3 0h2m2 0h1m1 0h4m3 0h1m1 0h1m4 0h1m12 0h1m15 0h1m11 0h1m7 0h1M566 340.5h1m3 0h1m4 0h1m5 0h3m1 0h1m7 0h1m3 0h2m1 0h1m4 0h1m1 0h1m2 0h1m2 0h3m4 0h1m2 0h1m1 0h2m5 0h1m3 0h2m1 0h1m2 0h1m5 0h1m2 0h3m24 0h1M567 341.5h2m7 0h1m1 0h2m1 0h2m2 0h1m3 0h1m3 0h1m14 0h1m9 0h1m2 0h1m1 0h1m9 0h1m4 0h8m3 0h1m3 0h1m2 0h1m22 0h1M565 342.5h1m10 0h1m2 0h1m3 0h1m3 0h1m15 0h1m3 0h1m10 0h1m5 0h1m1 0h1m1 0h3m5 0h2m1 0h1m1 0h3m1 0h2m3 0h3m2 0h3M580 343.5h2m1 0h2m2 0h1m6 0h1m2 0h1m5 0h1m9 0h1m4 0h2m3 0h1m1 0h1m3 0h1m9 0h1m2 0h1m3 0h1m4 0h1m1 0h1M566 344.5h2m13 0h1m7 0h1m9 0h1m1 0h1m6 0h2m13 0h1m3 0h2m1 0h1m3 0h2m2 0h1m2 0h1m4 0h1m2 0h1m2 0h1m1 0h1m11 0h1M581 345.5h1m11 0h1m7 0h1m4 0h1m1 0h1m3 0h1m1 0h1m1 0h1m1 0h1m4 0h1m1 0h1m1 0h1m3 0h1m1 0h4m2 0h1m1 0h2m1 0h1m1 0h2m1 0h2m2 0h1m1 0h2M562 346.5h1m7 0h1m11 0h1m6 0h2m1 0h1m8 0h1m12 0h1m9 0h1m1 0h1m2 0h1m4 0h1m1 0h1m1 0h1m2 0h1m1 0h3m1 0h2m6 0h1m12 0h1m2 0h1M570 347.5h1m1 0h1m2 0h1m5 0h2m20 0h2m3 0h1m1 0h1m4 0h1m3 0h1m5 0h1m8 0h1m1 0h1m18 0h1m2 0h1m5 0h1M582 348.5h1m5 0h2m10 0h1m7 0h1m1 0h1m5 0h1m5 0h1m12 0h1m4 0h1m2 0h1m2 0h4m1 0h1m4 0h1m3 0h1m7 0h3m11 0h1M573 349.5h1m6 0h1m1 0h2m11 0h1m17 0h1m2 0h1m4 0h1m1 0h1m3 0h2m1 0h1m8 0h1m1 0h1m6 0h1m2 0h3m1 0h1m1 0h2m3 0h1m1 0h1m3 0h1m7 0h1M563 350.5h1m7 0h1m2 0h2m5 0h1m12 0h1m4 0h1m13 0h1m1 0h1m13 0h1m1 0h2m1 0h2m5 0h1m1 0h1m3 0h2m2 0h2m1 0h1m3 0h1m12 0h1M562 351.5h1m1 0h1m1 0h1m3 0h1m10 0h2m3 0h1m8 0h1m4 0h3m21 0h1m2 0h1m1 0h1m10 0h1m1 0h1m3 0h1m4 0h2m1 0h2m3 0h4m3 0h1M568 352.5h1m5 0h1m5 0h1m1 0h1m1 0h1m13 0h1m3 0h1m1 0h1m1 0h1m5 0h1m11 0h2m7 0h1m1 0h1m11 0h2m1 0h4m1 0h1m4 0h1m2 0h1M569 353.5h1m19 0h1m7 0h1m4 0h1m11 0h3m18 0h1m4 0h1m2 0h3m4 0h1m4 0h3m3 0h1m2 0h1M568 354.5h1m10 0h1m2 0h1m9 0h1m14 0h1m17 0h1m18 0h1m3 0h2m2 0h3m1 0h1m1 0h3m1 0h1m2 0h1M568 355.5h1m2 0h2m8 0h2m3 0h1m20 0h2m4 0h1m5 0h2m1 0h1m7 0h1m1 0h1m3 0h1m7 0h1m6 0h6m1 0h1m2 0h1m1 0h2m2 0h1M572 356.5h1m2 0h1m6 0h1m1 0h1m4 0h1m5 0h1m14 0h1m4 0h1m12 0h1m1 0h2m5 0h1m3 0h2m2 0h3m2 0h2m3 0h1m2 0h1m1 0h1m1 0h1m5 0h1M564 357.5h1m7 0h1m13 0h1m2 0h2m1 0h1m5 0h1m19 0h1m3 0h1m4 0h1m1 0h1m3 0h2m4 0h3m6 0h1m3 0h1m4 0h1m1 0h5m1 0h1m1 0h1m1 0h1M571 358.5h1m5 0h1m3 0h2m10 0h1m2 0h2m16 0h1m1 0h1m7 0h1m6 0h1m5 0h1m4 0h2m2 0h2m1 0h1m4 0h1m3 0h3m1 0h1m1 0h1m1 0h1m1 0h1m1 0h1M568 359.5h1m2 0h1m3 0h1m33 0h1m3 0h1m1 0h1m3 0h1m7 0h1m2 0h1m1 0h1m10 0h1m1 0h1m1 0h1m4 0h2m2 0h1m7 0h2m1 0h1M581 360.5h1m23 0h1m7 0h3m4 0h1m5 0h1m4 0h1m6 0h1m1 0h1m4 0h2m2 0h1m6 0h2m2 0h2m3 0h1m2 0h1m1 0h1m2 0h2M572 361.5h1m1 0h1m7 0h1m8 0h1m2 0h2m5 0h1m6 0h1m17 0h1m7 0h2m2 0h1m11 0h2m1 0h1m4 0h2m1 0h1m2 0h1m2 0h1m1 0h1m2 0h1m1 0h1M586 362.5h1m7 0h1m4 0h1m1 0h1m12 0h1m22 0h1m5 0h1m2 0h2m1 0h2m4 0h1m1 0h4m2 0h1m2 0h1m3 0h4M574 363.5h1m6 0h1m4 0h1m3 0h1m1 0h1m13 0h1m13 0h1m8 0h1m3 0h1m6 0h1m2 0h1m3 0h1m2 0h1m3 0h1m4 0h2m1 0h3m1 0h2m3 0h4m8 0h1M580 364.5h3m27 0h1m5 0h1m3 0h1m8 0h1m10 0h1m5 0h1m2 0h1m5 0h2m1 0h1m3 0h1m2 0h2m1 0h2m2 0h1M574 365.5h1m3 0h2m1 0h1m8 0h1m1 0h1m3 0h1m1 0h1m8 0h1m9 0h1m3 0h1m5 0h1m3 0h1m5 0h1m4 0h1m7 0h1m1 0h2m2 0h1m5 0h1m2 0h5m3 0h1m5 0h1m1 0h1M580 366.5h1m10 0h2m24 0h1m5 0h1m11 0h1m2 0h1m2 0h1m5 0h2m13 0h1m1 0h1m2 0h1m2 0h2m2 0h1m4 0h1M573 367.5h1m8 0h1m23 0h1m4 0h1m1 0h1m1 0h2m1 0h1m2 0h2m12 0h1m2 0h1m9 0h1m9 0h1m2 0h1m4 0h1m2 0h1m3 0h2m4 0h1M566 368.5h2m13 0h2m1 0h1m4 0h1m7 0h2m9 0h1m3 0h1m13 0h1m5 0h1m12 0h1m1 0h1m1 0h1m2 0h1m2 0h1m1 0h3m4 0h2m1 0h1m3 0h2m1 0h1m1 0h1m1 0h1m2 0h1M568 369.5h1m3 0h1m7 0h3m1 0h1m1 0h1m6 0h1m14 0h2m15 0h2m11 0h1m7 0h1m12 0h2m4 0h1m1 0h1m2 0h5m1 0h4m4 0h1M563 370.5h1m3 0h1m13 0h2m7 0h1m9 0h1m9 0h1m10 0h1m13 0h1m7 0h1m1 0h2m2 0h1m5 0h3m2 0h3m3 0h1m2 0h1m2 0h1m1 0h1m2 0h1m1 0h5M568 371.5h1m10 0h1m1 0h2m2 0h2m6 0h1m5 0h1m6 0h2m14 0h1m14 0h1m2 0h3m4 0h1m8 0h1m1 0h1m1 0h2m1 0h3m2 0h7m2 0h4m1 0h3M569 372.5h2m4 0h1m6 0h1m14 0h1m5 0h1m9 0h1m5 0h1m5 0h1m15 0h1m9 0h1m1 0h1m2 0h2m1 0h1m4 0h1m1 0h1m1 0h2m1 0h4m8 0h2M568 373.5h1m2 0h1m9 0h2m9 0h1m7 0h1m6 0h1m4 0h1m8 0h1m7 0h1m2 0h1m3 0h1m2 0h1m7 0h1m1 0h1m4 0h1m4 0h1m3 0h1m1 0h1m1 0h3m3 0h4m1 0h4M563 374.5h1m3 0h1m13 0h2m5 0h1m4 0h1m10 0h1m1 0h1m7 0h1m26 0h1m3 0h1m1 0h3m1 0h1m3 0h2m1 0h1m2 0h3m2 0h1m1 0h1m1 0h2m3 0h3m3 0h3M581 375.5h1m2 0h1m6 0h1m10 0h1m13 0h1m12 0h1m3 0h1m3 0h1m12 0h1m13 0h1m3 0h5m1 0h2m1 0h3m1 0h4M563 376.5h1m2 0h1m12 0h1m8 0h1m5 0h1m9 0h1m2 0h1m13 0h1m2 0h1m5 0h1m32 0h2m2 0h5m4 0h3m5 0h1M570 377.5h1m1 0h1m6 0h1m1 0h2m21 0h2m5 0h1m3 0h1m12 0h1m3 0h2m14 0h1m18 0h1m2 0h1m1 0h1m1 0h1m1 0h2" stroke="#ed1c24" stroke-opacity="0.12" stroke-width="1" fill="none"/>
<path d="M564 256.5h1M562 257.5h1M562 259.5h1m1 0h2M562 260.5h1m5 0h1M565 261.5h1M567 262.5h2m1 0h1M567 263.5h1m1 0h1m1 0h1M569 264.5h2M567 265.5h1m2 0h3M568 267.5h1m3 0h2M568 268.5h1m1 0h1m2 0h2M573 269.5h1m1 0h1M572 270.5h1m2 0h2M574 271.5h1M576 272.5h2m4 0h1M576 273.5h1m2 0h1M569 274.5h1m1 0h1m3 0h1M571 275.5h1m7 0h1M564 276.5h3m3 0h1m1 0h1m2 0h1m5 0h1m4 0h2m1 0h1m1 0h2m2 0h1m1 0h2m7 0h1m2 0h1m1 0h1M584 277.5h1m2 0h1M583 279.5h1M581 280.5h1m1 0h1M579 281.5h1m2 0h1m3 0h1m1 0h1M585 282.5h1m1 0h1M582 283.5h1m2 0h1m1 0h1M582 284.5h2m5 0h1m1 0h1M578 285.5h1m3 0h1m4 0h1M591 286.5h1M569 288.5h1M591 289.5h2M588 290.5h1m4 0h1M582 291.5h1m16 0h1M592 292.5h1m1 0h1m5 0h1M581 293.5h1m9 0h1m3 0h1m5 0h1M582 294.5h1m12 0h1m1 0h1m4 0h1M581 295.5h1m8 0h1M598 296.5h1m1 0h1M600 297.5h1m4 0h1M581 298.5h1M582 299.5h1m15 0h1M602 300.5h1m6 0h2M581 301.5h1m22 0h1m4 0h2M581 302.5h1M602 303.5h1m1 0h2m1 0h1m3 0h1M602 304.5h1m1 0h4M610 305.5h1M607 306.5h3M606 307.5h1m1 0h3M581 308.5h1m22 0h2m2 0h1m1 0h1M605 309.5h5M604 310.5h2m1 0h1m1 0h1m8 0h1M582 311.5h1m25 0h2m5 0h1m5 0h1M581 312.5h1m26 0h1m1 0h2m4 0h2m2 0h1M608 313.5h1m4 0h1M581 314.5h1m24 0h1m3 0h1m1 0h1m1 0h1m7 0h2M610 315.5h1m1 0h1m2 0h1m8 0h1m1 0h1m1 0h1M581 316.5h1m24 0h3m1 0h1m1 0h1m1 0h1m1 0h1m8 0h1M616 317.5h1m3 0h2m5 0h1M582 318.5h1m28 0h1m15 0h2M608 319.5h2m6 0h2m9 0h1M582 320.5h1m25 0h1m2 0h1m3 0h1m13 0h1M582 321.5h1m23 0h2m3 0h1m12 0h1M582 322.5h1m33 0h1m2 0h1m2 0h1M608 323.5h1m5 0h1m2 0h1m1 0h1m1 0h1m6 0h1m5 0h1M616 324.5h1m6 0h1M582 325.5h1m30 0h1m16 0h1M615 326.5h1m5 0h1m2 0h1m10 0h1M582 327.5h1m28 0h1m2 0h1m2 0h1m21 0h1M617 328.5h1m1 0h1m4 0h1m2 0h2M582 329.5h1m31 0h2m6 0h1m5 0h1m2 0h1m5 0h1M582 330.5h1m29 0h1m2 0h1m6 0h1m19 0h1M617 331.5h1m4 0h1m8 0h2M617 332.5h1m3 0h1m8 0h1m1 0h2M617 333.5h1M623 334.5h1m6 0h1M582 335.5h1m35 0h1m1 0h2m4 0h1m3 0h2m12 0h1M582 336.5h1m40 0h2m2 0h1m1 0h1m3 0h2m6 0h1m4 0h1M623 337.5h2m1 0h1m7 0h2m9 0h1M581 338.5h1m39 0h1m2 0h1m4 0h1m8 0h1m2 0h1M582 339.5h1m50 0h1m5 0h2M622 340.5h1m4 0h1m2 0h1m2 0h1m9 0h1M644 342.5h1m2 0h1M631 343.5h1m13 0h1m2 0h1M618 344.5h1m6 0h1m17 0h1m4 0h1M648 345.5h1M618 346.5h1m6 0h1m5 0h1m17 0h1m1 0h1m2 0h1M618 347.5h1m12 0h1m19 0h2M625 348.5h1m5 0h1m18 0h1M625 349.5h1m28 0h1M582 350.5h1m42 0h1m24 0h1m4 0h2M581 352.5h1m36 0h1m35 0h1m1 0h1m1 0h1M582 353.5h1m69 0h1m5 0h2M660 355.5h1M659 356.5h1m1 0h1m2 0h1M654 357.5h1M656 358.5h1M581 359.5h1m77 0h1M659 360.5h1m4 0h1m1 0h1M640 361.5h1m24 0h2m3 0h1M582 362.5h1m79 0h1m2 0h1m2 0h1M665 363.5h1M670 364.5h1m2 0h1M671 365.5h1M582 366.5h1m85 0h1M671 367.5h1M668 368.5h3m2 0h1M675 369.5h1M673 370.5h1m4 0h1M676 371.5h1M581 372.5h1m95 0h1M635 373.5h1m20 0h1m5 0h1m14 0h1M679 374.5h2M581 376.5h1m91 0h1m8 0h2M678 377.5h1m1 0h1m1 0h3" stroke="#ed1c24" stroke-opacity="0.25" stroke-width="1" fill="none"/>
<path d="M562 256.5h1M562 258.5h1M566 259.5h1M565 260.5h2M562 261.5h1m5 0h1M567 264.5h1M572 266.5h1M577 271.5h2M578 273.5h1M576 274.5h1m3 0h1M581 275.5h1M567 276.5h1m1 0h1m4 0h1m2 0h1m1 0h1m4 0h1m3 0h1m5 0h1m6 0h2m1 0h1M580 277.5h1m2 0h1M580 278.5h1m3 0h1M582 280.5h1m2 0h1M581 281.5h1m5 0h1M588 282.5h1M586 283.5h1m2 0h1M590 284.5h1M589 285.5h1m1 0h1M589 286.5h1m2 0h2M593 287.5h2M594 288.5h2M582 289.5h1m13 0h1M596 290.5h2M597 291.5h2M598 292.5h2M599 293.5h2M600 294.5h2M601 295.5h2M602 296.5h2M602 297.5h3M602 298.5h1m1 0h2M604 299.5h1m1 0h1M606 300.5h2M606 301.5h1m1 0h1M607 302.5h3M606 303.5h1m1 0h1m1 0h1M610 304.5h2M608 305.5h2m2 0h1M610 306.5h1m2 0h1M607 307.5h1m5 0h2M612 308.5h1m1 0h2M611 309.5h1m2 0h3M606 310.5h1m4 0h1m2 0h1m1 0h2M614 311.5h1m3 0h1M609 312.5h1m4 0h1m3 0h2M607 313.5h1m4 0h1m5 0h1m1 0h1M605 314.5h1m10 0h2M616 315.5h1m5 0h1M611 316.5h1m1 0h1m1 0h1m1 0h1m5 0h1M582 317.5h1m27 0h1m3 0h1m9 0h1M617 318.5h1m7 0h1M612 319.5h1m5 0h1m6 0h2M616 320.5h1m4 0h2m1 0h1m2 0h1M621 321.5h2m5 0h2M612 322.5h1m2 0h1m12 0h2m1 0h1M620 323.5h1m4 0h1m1 0h1m2 0h1M615 324.5h1m17 0h1M618 325.5h1m3 0h3m1 0h1m2 0h1m1 0h3M620 326.5h1m4 0h2m3 0h1m2 0h1M619 327.5h1m2 0h1m2 0h1m1 0h1m4 0h1m1 0h2M620 328.5h1m1 0h1m12 0h1M618 329.5h3m3 0h3m7 0h1m1 0h1M618 330.5h1m1 0h1m5 0h3m8 0h1M621 331.5h1m16 0h2M620 332.5h1m4 0h1m2 0h2m1 0h1m7 0h1M615 333.5h2m10 0h2m7 0h1m3 0h1M620 334.5h2m14 0h2m1 0h1m1 0h1M624 335.5h1m9 0h1m4 0h1m2 0h1M618 336.5h1m11 0h1m4 0h1m7 0h2M627 337.5h1m5 0h1m7 0h1m1 0h2M622 338.5h1m7 0h1m1 0h2m3 0h1m2 0h1m1 0h1m2 0h1M628 339.5h1m7 0h2m7 0h2M634 340.5h2m2 0h1m1 0h2m2 0h1m1 0h2m1 0h1M625 341.5h1m5 0h1m15 0h2M625 342.5h1m5 0h1m16 0h2M649 343.5h2M631 344.5h1m18 0h2M582 345.5h1m68 0h2M650 346.5h1m1 0h2M653 347.5h2M618 348.5h1m36 0h1M581 349.5h1m49 0h1m24 0h1M618 350.5h1m38 0h1M656 351.5h1m1 0h1M657 352.5h1m1 0h1M660 353.5h1M661 354.5h1M659 355.5h1m2 0h1M663 356.5h1M664 357.5h1M665 358.5h1M666 359.5h1M667 360.5h1M668 361.5h1M669 362.5h1M668 363.5h3M671 364.5h1M672 365.5h1M672 366.5h2M675 368.5h1M675 370.5h2M679 372.5h1M678 374.5h1M679 376.5h3" stroke="#ed1c24" stroke-opacity="0.42" stroke-width="1" fill="none"/>
<path d="M563 257.5h1M563 258.5h1M564 260.5h1M563 261.5h1M569 265.5h1M578 272.5h1M562 276.5h1m17 0h1M581 278.5h2M584 279.5h2M586 280.5h1M588 285.5h1M597 293.5h1M605 299.5h1M604 300.5h1M605 301.5h1m1 0h1M604 302.5h2M609 304.5h1M606 305.5h1M605 306.5h1m6 0h1M613 309.5h1M612 310.5h1M612 311.5h1M613 312.5h1M605 313.5h1m8 0h1M621 314.5h1M613 315.5h2m3 0h1M618 316.5h3m1 0h1M623 317.5h1M618 318.5h2m4 0h1M620 319.5h1m2 0h1M618 320.5h1m1 0h1m2 0h1M617 321.5h4m4 0h1M620 322.5h1m2 0h1m1 0h2M618 323.5h1M621 324.5h1m2 0h1m1 0h1M627 325.5h1M622 326.5h1M623 327.5h2m1 0h1m3 0h1M626 328.5h1m2 0h2M627 329.5h1m1 0h1m3 0h1M630 330.5h1m1 0h1M618 331.5h1m1 0h1m2 0h1m3 0h1m7 0h1M618 332.5h2m4 0h1m11 0h1M613 333.5h1m6 0h1m1 0h1m2 0h1m4 0h1m1 0h1m1 0h1M614 334.5h1m3 0h2m4 0h1m2 0h1M628 335.5h1m6 0h3M625 336.5h1m6 0h1m7 0h1m1 0h1M618 337.5h1m13 0h1M618 338.5h1m6 0h2m1 0h1m6 0h2M625 339.5h1m4 0h3m5 0h1m2 0h1m2 0h1M631 340.5h1M654 348.5h1M618 351.5h1m38 0h1M618 353.5h1M670 365.5h1M678 372.5h1" stroke="#ed1c24" stroke-opacity="0.62" stroke-width="1" fill="none"/>
<path d="M564 258.5h1M567 261.5h1M582 275.5h2M582 276.5h2m1 0h1M581 277.5h2M595 289.5h1M609 303.5h1M608 304.5h1M611 305.5h1M611 306.5h1M610 309.5h1M610 310.5h1m2 0h1M617 311.5h1M606 313.5h1m2 0h3m3 0h1m1 0h1m1 0h1M618 314.5h3M619 315.5h3M621 316.5h1M617 317.5h1m1 0h1m2 0h1M620 318.5h4M619 319.5h1m1 0h2m1 0h1M619 320.5h1m5 0h2M623 321.5h1m2 0h2M618 322.5h1m2 0h1m2 0h1m2 0h1M623 323.5h1m2 0h1m2 0h1M619 324.5h1m2 0h1m2 0h1m2 0h4M620 325.5h2m3 0h1M623 326.5h1m3 0h3m1 0h2M628 327.5h2m1 0h1m1 0h1M623 328.5h1m1 0h1m5 0h4M623 329.5h1m6 0h1m1 0h1m2 0h1M625 330.5h1m3 0h1m1 0h1m2 0h3M626 331.5h1m1 0h3m2 0h2m1 0h2M626 332.5h1m7 0h2m2 0h1M614 333.5h1m3 0h2m1 0h1m1 0h2m1 0h1m4 0h1m1 0h1m1 0h1m1 0h3M613 334.5h1m2 0h1m5 0h1m2 0h2m1 0h2m1 0h5m4 0h1M638 335.5h1m1 0h2M631 336.5h1m5 0h3M625 337.5h1m5 0h1m6 0h1m1 0h1m1 0h1M631 338.5h1m11 0h2M635 339.5h1m6 0h2M618 340.5h1m26 0h1M618 349.5h1" stroke="#ed1c24" stroke-opacity="0.85" stroke-width="1" fill="none"/></g>
<circle cx="440.1" cy="270.0" r="4.4" fill="none" stroke="#29abe2" stroke-width="1.1"/>
<circle cx="420.0" cy="289.6" r="4.4" fill="none" stroke="#231f20" stroke-width="1.1"/>
<text x="448.10" y="273.80" font-size="8.65"><tspan font-style="italic">MYC</tspan><tspan>-E34235</tspan></text>
<text x="411.80" y="307.50" font-size="8.63"><tspan font-style="italic">MYC</tspan><tspan>-E34235</tspan></text>
<circle cx="638.0" cy="314.6" r="4.9" fill="none" stroke="#29abe2" stroke-width="1.1"/>
<circle cx="616.4" cy="335.1" r="4.9" fill="none" stroke="#231f20" stroke-width="1.1"/>
<text x="612.60" y="305.50" font-size="7.98"><tspan font-style="italic">VMP1</tspan><tspan>-E15788</tspan></text>
<text x="587.60" y="353.70" font-size="7.98"><tspan font-style="italic">VMP1</tspan><tspan>-E15788</tspan></text>
<text x="404.20" y="320.40" font-size="8.63" text-anchor="middle" transform="rotate(-90 404.20 320.40)">Tumour 510</text>
<text x="557.30" y="319.00" font-size="8.83" text-anchor="middle" transform="rotate(-90 557.30 319.00)">Tumour 510</text>
<line x1="387.50" y1="388.50" x2="387.50" y2="432.90" stroke="#231f20" stroke-width="0.8"/>
<text x="388.50" y="392.00" font-size="5.99">Tumour</text>
<text x="393.50" y="399.20" font-size="5.75">510</text>
<text x="388.80" y="416.80" font-size="6.35">Middle</text>
<text x="388.80" y="424.70" font-size="6.62">frontal</text>
<text x="391.20" y="430.50" font-size="6.18">gyrus</text>
<line x1="407.40" y1="401.20" x2="531.80" y2="401.20" stroke="#f49a9c" stroke-width="1.2"/>
<path d="M410.65,401.20L411.20,400.10L411.75,401.20ZM415.85,401.20L416.40,399.90L416.95,401.20ZM416.75,401.20L417.30,400.00L417.85,401.20ZM418.85,401.20L419.40,392.70L419.95,401.20ZM422.05,401.20L422.60,395.30L423.15,401.20ZM422.65,401.20L423.20,394.20L423.75,401.20ZM423.15,401.20L423.70,395.20L424.25,401.20ZM424.85,401.20L425.40,392.00L425.95,401.20ZM425.55,401.20L426.10,394.40L426.65,401.20ZM427.65,401.20L428.20,392.30L428.75,401.20ZM428.65,401.20L429.20,394.90L429.75,401.20ZM429.55,401.20L430.10,395.80L430.65,401.20ZM430.55,401.20L431.10,397.70L431.65,401.20ZM433.85,401.20L434.40,399.40L434.95,401.20ZM434.75,401.20L435.30,399.20L435.85,401.20ZM435.75,401.20L436.30,399.50L436.85,401.20ZM437.65,401.20L438.20,394.40L438.75,401.20ZM438.45,401.20L439.00,393.20L439.55,401.20ZM440.45,401.20L441.00,392.50L441.55,401.20ZM441.25,401.20L441.80,393.30L442.35,401.20ZM441.95,401.20L442.50,396.20L443.05,401.20ZM444.25,401.20L444.80,400.10L445.35,401.20ZM448.05,401.20L448.60,399.10L449.15,401.20ZM449.45,401.20L450.00,399.60L450.55,401.20ZM452.85,401.20L453.40,400.10L453.95,401.20ZM458.05,401.20L458.60,400.10L459.15,401.20ZM494.75,401.20L495.30,399.40L495.85,401.20ZM496.75,401.20L497.30,399.70L497.85,401.20ZM524.45,401.20L525.00,399.70L525.55,401.20ZM528.45,401.20L529.00,399.20L529.55,401.20ZM529.95,401.20L530.50,398.20L531.05,401.20ZM530.65,401.20L531.20,399.20L531.75,401.20Z" fill="#ed1c24"/>
<line x1="407.40" y1="417.50" x2="531.80" y2="417.50" stroke="#a8def5" stroke-width="1.2"/>
<path d="M418.65,417.50L419.20,416.00L419.75,417.50ZM424.85,417.50L425.40,416.20L425.95,417.50ZM427.45,417.50L428.00,416.50L428.55,417.50ZM429.45,417.50L430.00,416.50L430.55,417.50ZM448.55,417.50L449.10,416.50L449.65,417.50ZM469.45,417.50L470.00,416.70L470.55,417.50ZM489.45,417.50L490.00,416.70L490.55,417.50ZM509.45,417.50L510.00,416.70L510.55,417.50ZM527.35,417.50L527.90,415.70L528.45,417.50ZM528.95,417.50L529.50,414.90L530.05,417.50ZM530.45,417.50L531.00,414.50L531.55,417.50Z" fill="#29abe2"/>
<rect x="439.3" y="391.2" width="4.4" height="30.3" fill="#000" fill-opacity="0.04" stroke="#666" stroke-width="0.8"/>
<rect x="418.30" y="420.90" width="2.40" height="11.80" fill="#6d6e71"/>
<text x="428.30" y="431.60" font-size="8.76">E34235</text>
<text x="406.70" y="442.50" font-size="8.20"><tspan font-style="italic">MYC</tspan><tspan> &gt;</tspan></text>
<text x="535.10" y="393.90" font-size="8.83" text-anchor="end">[0, 1.2]</text>
<text x="535.10" y="410.90" font-size="8.83" text-anchor="end">[0, 1.2]</text>
<line x1="545.90" y1="387.20" x2="545.90" y2="432.50" stroke="#231f20" stroke-width="0.8"/>
<text x="547.00" y="392.00" font-size="5.99">Tumour</text>
<text x="552.00" y="399.20" font-size="5.75">510</text>
<text x="547.30" y="416.80" font-size="6.35">Middle</text>
<text x="547.30" y="424.70" font-size="6.62">frontal</text>
<text x="549.70" y="430.50" font-size="6.18">gyrus</text>
<line x1="566.80" y1="401.50" x2="685.00" y2="401.50" stroke="#f49a9c" stroke-width="1.2"/>
<path d="M566.95,401.50L567.50,400.50L568.05,401.50ZM581.05,401.50L581.60,392.70L582.15,401.50ZM595.15,401.50L595.70,399.70L596.25,401.50ZM604.75,401.50L605.30,397.50L605.85,401.50ZM611.45,401.50L612.00,400.70L612.55,401.50ZM617.85,401.50L618.40,394.50L618.95,401.50ZM619.15,401.50L619.70,395.00L620.25,401.50ZM620.25,401.50L620.80,395.70L621.35,401.50ZM621.05,401.50L621.60,397.50L622.15,401.50ZM625.75,401.50L626.30,393.60L626.85,401.50ZM626.65,401.50L627.20,396.50L627.75,401.50ZM627.55,401.50L628.10,397.10L628.65,401.50ZM630.95,401.50L631.50,400.00L632.05,401.50ZM631.85,401.50L632.40,399.70L632.95,401.50ZM632.95,401.50L633.50,400.30L634.05,401.50ZM637.15,401.50L637.70,394.50L638.25,401.50ZM638.05,401.50L638.60,396.00L639.15,401.50ZM638.95,401.50L639.50,393.30L640.05,401.50ZM639.95,401.50L640.50,395.50L641.05,401.50ZM641.15,401.50L641.70,392.20L642.25,401.50ZM642.45,401.50L643.00,395.00L643.55,401.50ZM643.45,401.50L644.00,396.50L644.55,401.50ZM644.15,401.50L644.70,397.50L645.25,401.50ZM645.25,401.50L645.80,399.50L646.35,401.50ZM655.15,401.50L655.70,398.00L656.25,401.50ZM674.45,401.50L675.00,399.70L675.55,401.50Z" fill="#ed1c24"/>
<line x1="566.80" y1="418.00" x2="685.00" y2="418.00" stroke="#a8def5" stroke-width="1.2"/>
<path d="M566.95,418.00L567.50,417.00L568.05,418.00ZM581.05,418.00L581.60,412.20L582.15,418.00ZM604.75,418.00L605.30,415.20L605.85,418.00ZM608.25,418.00L608.80,415.70L609.35,418.00ZM640.45,418.00L641.00,417.20L641.55,418.00ZM655.15,418.00L655.70,414.80L656.25,418.00ZM674.45,418.00L675.00,415.40L675.55,418.00Z" fill="#29abe2"/>
<rect x="617.2" y="392.4" width="5.6" height="27.6" fill="#000" fill-opacity="0.03" stroke="#231f20" stroke-width="0.9"/>
<rect x="638.30" y="420.10" width="2.70" height="12.20" fill="#231f20"/>
<text x="602.00" y="430.40" font-size="8.01">E15788</text>
<text x="626.40" y="442.50" font-size="7.53"><tspan font-style="italic">VMP1</tspan><tspan> &gt;</tspan></text>
<text x="683.90" y="394.30" font-size="9.44" text-anchor="end">[0, 5]</text>
<text x="683.90" y="412.50" font-size="9.44" text-anchor="end">[0, 5]</text>
<text x="383.20" y="404.60" font-size="8.65" text-anchor="end">H3K27ac</text>
<text x="383.20" y="415.10" font-size="8.41" text-anchor="end">ChIP</text>
<text x="-0.60" y="469.20" font-size="12.50" font-weight="bold" fill="#111" stroke="#111" stroke-width="0.45">g</text>
<text x="64.90" y="475.90" font-size="8.89">chr 2:19,891,038-20,657,737</text>
<text x="73.70" y="493.90" font-size="9.45">[0, 3.5]</text>
<text x="70.80" y="505.90" font-size="8.51" text-anchor="end">H3K27ac</text>
<text x="262.40" y="493.90" font-size="8.47" text-anchor="end">E19383</text>
<line x1="74.40" y1="506.40" x2="264.20" y2="506.40" stroke="#a9c0e6" stroke-width="0.8"/>
<path d="M74.60,506.40L75.10,500.00L75.60,506.40ZM95.80,506.40L96.30,502.90L96.80,506.40ZM100.90,506.40L101.40,503.90L101.90,506.40ZM110.10,506.40L110.60,501.00L111.10,506.40ZM119.90,506.40L120.40,503.50L120.90,506.40ZM131.50,506.40L132.00,503.20L132.50,506.40ZM138.10,506.40L138.60,503.50L139.10,506.40ZM139.10,506.40L139.60,504.40L140.10,506.40ZM141.00,506.40L141.50,498.80L142.00,506.40ZM142.10,506.40L142.60,496.20L143.10,506.40ZM142.90,506.40L143.40,500.40L143.90,506.40ZM144.00,506.40L144.50,503.40L145.00,506.40ZM145.00,506.40L145.50,504.40L146.00,506.40ZM150.50,506.40L151.00,499.00L151.50,506.40ZM151.30,506.40L151.80,501.40L152.30,506.40ZM157.50,506.40L158.00,505.60L158.50,506.40ZM164.50,506.40L165.00,505.60L165.50,506.40ZM181.30,506.40L181.80,499.60L182.30,506.40ZM204.30,506.40L204.80,502.60L205.30,506.40ZM214.10,506.40L214.60,505.20L215.10,506.40ZM220.10,506.40L220.60,504.60L221.10,506.40ZM224.60,506.40L225.10,504.90L225.60,506.40ZM227.50,506.40L228.00,505.20L228.50,506.40ZM231.40,506.40L231.90,503.90L232.40,506.40ZM233.00,506.40L233.50,503.20L234.00,506.40ZM234.50,506.40L235.00,504.20L235.50,506.40ZM236.10,506.40L236.60,502.60L237.10,506.40ZM237.50,506.40L238.00,503.90L238.50,506.40ZM239.00,506.40L239.50,503.40L240.00,506.40ZM240.40,506.40L240.90,504.40L241.40,506.40ZM244.20,506.40L244.70,502.60L245.20,506.40ZM246.50,506.40L247.00,505.20L247.50,506.40ZM251.90,506.40L252.40,503.90L252.90,506.40ZM253.20,506.40L253.70,502.60L254.20,506.40ZM258.50,506.40L259.00,504.20L259.50,506.40Z" fill="#4d77c0"/>
<text x="70.50" y="520.80" font-size="8.70" textLength="24.20" lengthAdjust="spacingAndGlyphs" text-anchor="end" font-style="italic">TTC32</text>
<text x="73.80" y="533.90" font-size="8.70" textLength="26.60" lengthAdjust="spacingAndGlyphs" text-anchor="end" font-style="italic">WDR35</text>
<text x="102.30" y="520.80" font-size="8.70" textLength="27.20" lengthAdjust="spacingAndGlyphs" font-style="italic">MATN3</text>
<text x="92.20" y="544.40" font-size="8.70" textLength="34.70" lengthAdjust="spacingAndGlyphs" font-style="italic">LAPTM4A</text>
<text x="140.30" y="525.40" font-size="8.70" textLength="19.70" lengthAdjust="spacingAndGlyphs" font-style="italic">SDC1</text>
<text x="165.40" y="543.50" font-size="8.70" textLength="21.20" lengthAdjust="spacingAndGlyphs" font-style="italic">PUM2</text>
<text x="196.70" y="543.50" font-size="8.70" textLength="22.40" lengthAdjust="spacingAndGlyphs" font-style="italic">RHOB</text>
<text x="213.70" y="525.40" font-size="8.70" textLength="28.50" lengthAdjust="spacingAndGlyphs" font-style="italic">HS1BP3</text>
<line x1="73.60" y1="517.90" x2="75.60" y2="517.90" stroke="#5b3a9e" stroke-width="0.6"/>
<ellipse cx="74.50" cy="517.90" rx="1.10" ry="3.10" fill="#5b3a9e" fill-opacity="0.9"/>
<line x1="96.20" y1="518.10" x2="101.00" y2="518.10" stroke="#5b3a9e" stroke-width="0.6"/>
<ellipse cx="97.80" cy="518.10" rx="1.60" ry="3.40" fill="#5b3a9e" fill-opacity="0.95"/>
<ellipse cx="99.40" cy="518.10" rx="0.60" ry="3.40" fill="#5b3a9e" fill-opacity="0.8"/>
<ellipse cx="100.60" cy="518.10" rx="0.35" ry="3.40" fill="#5b3a9e" fill-opacity="0.8"/>
<line x1="76.90" y1="531.00" x2="97.10" y2="531.00" stroke="#5b3a9e" stroke-width="0.6"/>
<ellipse cx="77.80" cy="531.00" rx="0.90" ry="3.30" fill="#5b3a9e" fill-opacity="0.9"/>
<ellipse cx="79.60" cy="531.00" rx="0.60" ry="3.30" fill="#5b3a9e" fill-opacity="0.8"/>
<ellipse cx="82.00" cy="531.00" rx="1.10" ry="3.30" fill="#5b3a9e" fill-opacity="0.95"/>
<ellipse cx="84.00" cy="531.00" rx="1.00" ry="3.30" fill="#5b3a9e" fill-opacity="0.9"/>
<ellipse cx="85.80" cy="531.00" rx="1.00" ry="3.30" fill="#5b3a9e" fill-opacity="0.9"/>
<ellipse cx="87.60" cy="531.00" rx="0.80" ry="3.30" fill="#5b3a9e" fill-opacity="0.85"/>
<ellipse cx="89.40" cy="531.00" rx="0.60" ry="3.30" fill="#5b3a9e" fill-opacity="0.75"/>
<ellipse cx="91.20" cy="531.00" rx="0.50" ry="3.30" fill="#5b3a9e" fill-opacity="0.7"/>
<ellipse cx="92.80" cy="531.00" rx="0.50" ry="3.30" fill="#5b3a9e" fill-opacity="0.65"/>
<ellipse cx="94.60" cy="531.00" rx="0.40" ry="3.30" fill="#5b3a9e" fill-opacity="0.6"/>
<ellipse cx="96.60" cy="531.00" rx="0.30" ry="3.30" fill="#5b3a9e" fill-opacity="0.6"/>
<line x1="105.30" y1="532.20" x2="111.40" y2="532.20" stroke="#5b3a9e" stroke-width="0.6"/>
<ellipse cx="107.20" cy="532.20" rx="1.50" ry="3.30" fill="#5b3a9e" fill-opacity="0.9"/>
<ellipse cx="109.30" cy="532.20" rx="0.80" ry="3.30" fill="#5b3a9e" fill-opacity="0.8"/>
<ellipse cx="110.80" cy="532.20" rx="0.40" ry="3.30" fill="#5b3a9e" fill-opacity="0.6"/>
<line x1="145.40" y1="531.80" x2="153.00" y2="531.80" stroke="#5b3a9e" stroke-width="0.6"/>
<ellipse cx="146.60" cy="531.80" rx="1.10" ry="3.00" fill="#5b3a9e" fill-opacity="0.9"/>
<ellipse cx="149.30" cy="531.80" rx="0.50" ry="3.00" fill="#5b3a9e" fill-opacity="0.7"/>
<ellipse cx="151.30" cy="531.80" rx="0.40" ry="3.00" fill="#5b3a9e" fill-opacity="0.6"/>
<line x1="156.80" y1="531.80" x2="182.40" y2="531.80" stroke="#5b3a9e" stroke-width="0.6"/>
<ellipse cx="158.60" cy="531.80" rx="1.80" ry="3.10" fill="#5b3a9e" fill-opacity="0.95"/>
<ellipse cx="161.60" cy="531.80" rx="1.00" ry="3.10" fill="#5b3a9e" fill-opacity="0.85"/>
<ellipse cx="163.60" cy="531.80" rx="0.90" ry="3.10" fill="#5b3a9e" fill-opacity="0.85"/>
<ellipse cx="165.50" cy="531.80" rx="0.90" ry="3.10" fill="#5b3a9e" fill-opacity="0.85"/>
<ellipse cx="167.50" cy="531.80" rx="0.90" ry="3.10" fill="#5b3a9e" fill-opacity="0.8"/>
<ellipse cx="169.50" cy="531.80" rx="0.80" ry="3.10" fill="#5b3a9e" fill-opacity="0.8"/>
<ellipse cx="172.00" cy="531.80" rx="0.80" ry="3.10" fill="#5b3a9e" fill-opacity="0.75"/>
<ellipse cx="174.30" cy="531.80" rx="0.60" ry="3.10" fill="#5b3a9e" fill-opacity="0.7"/>
<ellipse cx="176.50" cy="531.80" rx="0.50" ry="3.10" fill="#5b3a9e" fill-opacity="0.65"/>
<ellipse cx="178.60" cy="531.80" rx="0.40" ry="3.10" fill="#5b3a9e" fill-opacity="0.6"/>
<ellipse cx="180.60" cy="531.80" rx="0.40" ry="3.10" fill="#5b3a9e" fill-opacity="0.6"/>
<ellipse cx="205.50" cy="531.90" rx="0.60" ry="3.40" fill="#5b3a9e" fill-opacity="0.9"/>
<line x1="245.10" y1="531.80" x2="253.60" y2="531.80" stroke="#5b3a9e" stroke-width="0.6"/>
<ellipse cx="246.50" cy="531.80" rx="1.20" ry="3.00" fill="#5b3a9e" fill-opacity="0.85"/>
<ellipse cx="248.70" cy="531.80" rx="0.90" ry="3.00" fill="#5b3a9e" fill-opacity="0.8"/>
<ellipse cx="250.80" cy="531.80" rx="0.90" ry="3.00" fill="#5b3a9e" fill-opacity="0.8"/>
<ellipse cx="252.60" cy="531.80" rx="0.70" ry="3.00" fill="#5b3a9e" fill-opacity="0.8"/>
<text x="49.00" y="550.20" font-size="9.00" text-anchor="middle">Pro-tumour</text>
<text x="49.00" y="560.00" font-size="9.00" text-anchor="middle">enhancer</text>
<text x="48.00" y="589.90" font-size="9.00" text-anchor="middle">HiChIP loops</text>
<text x="48.00" y="600.30" font-size="9.00" text-anchor="middle">in glioma</text>
<text x="48.00" y="619.60" font-size="9.00" text-anchor="middle">HiChIP loops</text>
<text x="48.00" y="629.90" font-size="9.00" text-anchor="middle">in normal brain</text>
<rect x="251.20" y="544.40" width="1.40" height="10.80" fill="#2bb673"/>
<rect x="249.4" y="498.4" width="4.8" height="133.0" fill="#000" fill-opacity="0.03" stroke="#9a9a9a" stroke-width="0.9"/>
<path d="M75.0,570.0 C113.8,600.5 219.7,600.5 251.5,570.0" fill="none" stroke="#f4a086" stroke-width="1.0"/>
<path d="M96.4,570.0 C130.5,597.8 223.6,597.8 251.5,570.0" fill="none" stroke="#e8262b" stroke-width="1.3"/>
<path d="M99.0,570.0 C132.6,596.4 224.1,596.4 251.5,570.0" fill="none" stroke="#ee5a45" stroke-width="0.9"/>
<path d="M103.3,570.0 C135.9,594.6 224.8,594.6 251.5,570.0" fill="none" stroke="#fbc3b1" stroke-width="0.8"/>
<path d="M108.0,570.0 C139.6,593.9 225.7,593.9 251.5,570.0" fill="none" stroke="#f9b7a3" stroke-width="0.8"/>
<path d="M111.6,570.0 C142.4,592.3 226.3,592.3 251.5,570.0" fill="none" stroke="#fcd0c2" stroke-width="0.8"/>
<path d="M115.8,570.0 C145.7,591.7 227.1,591.7 251.5,570.0" fill="none" stroke="#f8b09b" stroke-width="0.8"/>
<path d="M121.0,570.0 C149.7,590.8 228.0,590.8 251.5,570.0" fill="none" stroke="#fcd5c8" stroke-width="0.7"/>
<path d="M143.5,570.0 C167.3,591.5 232.1,591.5 251.5,570.0" fill="none" stroke="#e8262b" stroke-width="1.3"/>
<path d="M147.0,570.0 C170.0,590.8 232.7,590.8 251.5,570.0" fill="none" stroke="#ec4a3c" stroke-width="0.9"/>
<path d="M151.8,570.0 C173.7,589.9 233.6,589.9 251.5,570.0" fill="none" stroke="#ef6a50" stroke-width="1.1"/>
<path d="M158.0,570.0 C178.6,588.7 234.7,588.7 251.5,570.0" fill="none" stroke="#f6a089" stroke-width="0.8"/>
<path d="M167.0,570.0 C185.6,588.0 236.3,588.0 251.5,570.0" fill="none" stroke="#f28a6e" stroke-width="0.9"/>
<path d="M182.3,570.0 C197.5,585.6 239.0,585.6 251.5,570.0" fill="none" stroke="#ec5a44" stroke-width="1.1"/>
<path d="M187.0,570.0 C201.2,584.6 239.9,584.6 251.5,570.0" fill="none" stroke="#f7a590" stroke-width="0.8"/>
<path d="M204.5,570.0 C214.8,582.5 243.0,582.5 251.5,570.0" fill="none" stroke="#e8262b" stroke-width="1.2"/>
<path d="M210.0,570.0 C219.1,581.0 244.0,581.0 251.5,570.0" fill="none" stroke="#f4927a" stroke-width="0.8"/>
<path d="M228.0,570.0 C233.2,577.8 247.3,577.8 251.5,570.0" fill="none" stroke="#fbc6b6" stroke-width="0.8"/>
<path d="M233.7,570.0 C237.6,575.9 248.3,575.9 251.5,570.0" fill="none" stroke="#f8b4a0" stroke-width="0.8"/>
<path d="M236.4,570.0 C239.7,575.0 248.8,575.0 251.5,570.0" fill="none" stroke="#f29279" stroke-width="0.8"/>
<path d="M182.3,608.6 C196.9,630.0 240.7,630.0 255.3,608.6" fill="none" stroke="#a8dcf3" stroke-width="0.9"/>
<path d="M211.5,608.6 C220.3,626.1 246.5,626.1 255.3,608.6" fill="none" stroke="#29abe2" stroke-width="1.1"/>
<path d="M235.0,608.6 C239.1,618.0 251.2,618.0 255.3,608.6" fill="none" stroke="#6cc7ee" stroke-width="0.9"/>
<path d="M237.8,608.6 C241.3,616.7 251.8,616.7 255.3,608.6" fill="none" stroke="#29abe2" stroke-width="0.9"/>
<path d="M243.4,608.6 C245.8,614.9 252.9,614.9 255.3,608.6" fill="none" stroke="#29abe2" stroke-width="0.9"/>
<path d="M112.2,608.6 C140.8,644.8 226.7,644.8 255.3,608.6" fill="none" stroke="#29abe2" stroke-width="1.3"/>
<path d="M78.3,608.6 C90,618 103,618 112.2,608.6" fill="none" stroke="#8fd3f2" stroke-width="1.0"/>
<text x="285.00" y="468.50" font-size="13.00" font-weight="bold" fill="#111" stroke="#111" stroke-width="0.45">h</text>
<rect x="328.60" y="459.20" width="7.20" height="7.60" fill="#a7a9ac"/>
<rect x="328.60" y="471.50" width="7.20" height="7.60" fill="#7199d5"/>
<text x="341.30" y="466.00" font-size="9.34">Targeted control</text>
<text x="341.30" y="477.60" font-size="8.80">Targeted E19383</text>
<line x1="320.60" y1="486.50" x2="320.60" y2="623.20" stroke="#7d7d7d" stroke-width="1.0"/>
<line x1="315.10" y1="623.20" x2="516.40" y2="623.20" stroke="#7d7d7d" stroke-width="1.0"/>
<line x1="315.00" y1="623.20" x2="320.40" y2="623.20" stroke="#9a9a9a" stroke-width="0.9"/>
<text x="311.40" y="625.50" font-size="7.20" text-anchor="end">0</text>
<line x1="315.00" y1="577.75" x2="320.40" y2="577.75" stroke="#9a9a9a" stroke-width="0.9"/>
<text x="311.40" y="580.05" font-size="7.20" text-anchor="end">0.5</text>
<line x1="315.00" y1="532.30" x2="320.40" y2="532.30" stroke="#9a9a9a" stroke-width="0.9"/>
<text x="311.40" y="534.60" font-size="7.20" text-anchor="end">1.0</text>
<line x1="315.00" y1="486.85" x2="320.40" y2="486.85" stroke="#9a9a9a" stroke-width="0.9"/>
<text x="311.40" y="489.15" font-size="7.20" text-anchor="end">1.5</text>
<text x="291.60" y="554.80" font-size="8.88" text-anchor="middle" transform="rotate(-90 291.60 554.80)">Relative expression level</text>
<rect x="323.60" y="532.30" width="6.40" height="90.90" fill="#a7a9ac"/>
<rect x="333.10" y="562.48" width="5.20" height="60.72" fill="#7199d5"/>
<line x1="326.80" y1="535.03" x2="326.80" y2="529.57" stroke="#3a3a3a" stroke-width="0.6"/>
<line x1="325.60" y1="535.03" x2="328.00" y2="535.03" stroke="#3a3a3a" stroke-width="0.6"/>
<line x1="325.60" y1="529.57" x2="328.00" y2="529.57" stroke="#3a3a3a" stroke-width="0.6"/>
<line x1="335.70" y1="564.12" x2="335.70" y2="560.48" stroke="#3a3a3a" stroke-width="0.6"/>
<line x1="334.50" y1="564.12" x2="336.90" y2="564.12" stroke="#3a3a3a" stroke-width="0.6"/>
<line x1="334.50" y1="560.48" x2="336.90" y2="560.48" stroke="#3a3a3a" stroke-width="0.6"/>
<circle cx="326.40" cy="528.66" r="1.15" fill="#fff" fill-opacity="0.35" stroke="#3a3a3a" stroke-width="0.5"/>
<circle cx="327.20" cy="533.21" r="1.15" fill="#fff" fill-opacity="0.35" stroke="#3a3a3a" stroke-width="0.5"/>
<circle cx="326.40" cy="534.12" r="1.15" fill="#fff" fill-opacity="0.35" stroke="#3a3a3a" stroke-width="0.5"/>
<circle cx="327.20" cy="532.30" r="1.15" fill="#fff" fill-opacity="0.35" stroke="#3a3a3a" stroke-width="0.5"/>
<polygon points="335.30,559.18 336.60,561.52 334.00,561.52" fill="#fff" fill-opacity="0.35" stroke="#3a3a3a" stroke-width="0.5"/>
<polygon points="336.10,561.91 337.40,564.25 334.80,564.25" fill="#fff" fill-opacity="0.35" stroke="#3a3a3a" stroke-width="0.5"/>
<polygon points="335.30,561.00 336.60,563.34 334.00,563.34" fill="#fff" fill-opacity="0.35" stroke="#3a3a3a" stroke-width="0.5"/>
<line x1="331.60" y1="623.20" x2="331.60" y2="628.20" stroke="#777" stroke-width="0.7"/>
<text x="334.80" y="632.00" font-size="9.20" textLength="26.40" lengthAdjust="spacingAndGlyphs" text-anchor="end" font-style="italic" transform="rotate(-90 334.80 632.00)">TTC32</text>
<line x1="326.80" y1="523.50" x2="326.80" y2="525.50" stroke="#7a7a7a" stroke-width="0.6"/>
<line x1="326.80" y1="523.50" x2="335.70" y2="523.50" stroke="#7a7a7a" stroke-width="0.6"/>
<line x1="335.70" y1="523.50" x2="335.70" y2="555.00" stroke="#7a7a7a" stroke-width="0.6"/>
<text x="322.50" y="518.40" font-size="5.87"><tspan font-style="italic">P</tspan><tspan> &lt; 0.001</tspan></text>
<rect x="348.32" y="532.30" width="6.40" height="90.90" fill="#a7a9ac"/>
<rect x="357.82" y="572.02" width="5.20" height="51.18" fill="#7199d5"/>
<line x1="351.52" y1="555.93" x2="351.52" y2="507.76" stroke="#3a3a3a" stroke-width="0.6"/>
<line x1="350.32" y1="555.93" x2="352.72" y2="555.93" stroke="#3a3a3a" stroke-width="0.6"/>
<line x1="350.32" y1="507.76" x2="352.72" y2="507.76" stroke="#3a3a3a" stroke-width="0.6"/>
<line x1="360.42" y1="578.66" x2="360.42" y2="565.02" stroke="#3a3a3a" stroke-width="0.6"/>
<line x1="359.22" y1="578.66" x2="361.62" y2="578.66" stroke="#3a3a3a" stroke-width="0.6"/>
<line x1="359.22" y1="565.02" x2="361.62" y2="565.02" stroke="#3a3a3a" stroke-width="0.6"/>
<circle cx="351.12" cy="504.12" r="1.15" fill="#fff" fill-opacity="0.35" stroke="#3a3a3a" stroke-width="0.5"/>
<circle cx="351.92" cy="543.21" r="1.15" fill="#fff" fill-opacity="0.35" stroke="#3a3a3a" stroke-width="0.5"/>
<circle cx="351.12" cy="548.66" r="1.15" fill="#fff" fill-opacity="0.35" stroke="#3a3a3a" stroke-width="0.5"/>
<polygon points="360.02,561.18 361.32,563.52 358.72,563.52" fill="#fff" fill-opacity="0.35" stroke="#3a3a3a" stroke-width="0.5"/>
<polygon points="360.82,571.91 362.12,574.25 359.52,574.25" fill="#fff" fill-opacity="0.35" stroke="#3a3a3a" stroke-width="0.5"/>
<polygon points="360.02,577.90 361.32,580.24 358.72,580.24" fill="#fff" fill-opacity="0.35" stroke="#3a3a3a" stroke-width="0.5"/>
<line x1="356.32" y1="623.20" x2="356.32" y2="628.20" stroke="#777" stroke-width="0.7"/>
<text x="359.52" y="632.00" font-size="9.20" textLength="29.00" lengthAdjust="spacingAndGlyphs" text-anchor="end" font-style="italic" transform="rotate(-90 359.52 632.00)">MATN3</text>
<line x1="351.52" y1="499.00" x2="351.52" y2="502.00" stroke="#7a7a7a" stroke-width="0.6"/>
<line x1="351.52" y1="499.00" x2="360.42" y2="499.00" stroke="#7a7a7a" stroke-width="0.6"/>
<line x1="360.42" y1="499.00" x2="360.42" y2="556.30" stroke="#7a7a7a" stroke-width="0.6"/>
<text x="341.00" y="496.70" font-size="6.17"><tspan font-style="italic">P</tspan><tspan> = 0.0596</tspan></text>
<rect x="373.04" y="532.30" width="6.40" height="90.90" fill="#a7a9ac"/>
<rect x="382.54" y="594.66" width="5.20" height="28.54" fill="#7199d5"/>
<line x1="376.24" y1="538.66" x2="376.24" y2="526.85" stroke="#3a3a3a" stroke-width="0.6"/>
<line x1="375.04" y1="538.66" x2="377.44" y2="538.66" stroke="#3a3a3a" stroke-width="0.6"/>
<line x1="375.04" y1="526.85" x2="377.44" y2="526.85" stroke="#3a3a3a" stroke-width="0.6"/>
<line x1="385.14" y1="596.84" x2="385.14" y2="592.29" stroke="#3a3a3a" stroke-width="0.6"/>
<line x1="383.94" y1="596.84" x2="386.34" y2="596.84" stroke="#3a3a3a" stroke-width="0.6"/>
<line x1="383.94" y1="592.29" x2="386.34" y2="592.29" stroke="#3a3a3a" stroke-width="0.6"/>
<circle cx="375.84" cy="526.85" r="1.15" fill="#fff" fill-opacity="0.35" stroke="#3a3a3a" stroke-width="0.5"/>
<circle cx="376.64" cy="532.30" r="1.15" fill="#fff" fill-opacity="0.35" stroke="#3a3a3a" stroke-width="0.5"/>
<circle cx="375.84" cy="538.66" r="1.15" fill="#fff" fill-opacity="0.35" stroke="#3a3a3a" stroke-width="0.5"/>
<polygon points="384.74,589.18 386.04,591.52 383.44,591.52" fill="#fff" fill-opacity="0.35" stroke="#3a3a3a" stroke-width="0.5"/>
<polygon points="385.54,591.90 386.84,594.24 384.24,594.24" fill="#fff" fill-opacity="0.35" stroke="#3a3a3a" stroke-width="0.5"/>
<polygon points="384.74,593.72 386.04,596.06 383.44,596.06" fill="#fff" fill-opacity="0.35" stroke="#3a3a3a" stroke-width="0.5"/>
<line x1="381.04" y1="623.20" x2="381.04" y2="628.20" stroke="#777" stroke-width="0.7"/>
<text x="384.24" y="632.00" font-size="9.20" textLength="38.00" lengthAdjust="spacingAndGlyphs" text-anchor="end" font-style="italic" transform="rotate(-90 384.24 632.00)">LAPTM4A</text>
<line x1="376.24" y1="522.30" x2="376.24" y2="524.50" stroke="#7a7a7a" stroke-width="0.6"/>
<line x1="376.24" y1="522.30" x2="385.14" y2="522.30" stroke="#7a7a7a" stroke-width="0.6"/>
<line x1="385.14" y1="522.30" x2="385.14" y2="588.00" stroke="#7a7a7a" stroke-width="0.6"/>
<text x="367.80" y="519.90" font-size="5.92"><tspan font-style="italic">P</tspan><tspan> &lt; 0.001</tspan></text>
<rect x="397.76" y="532.30" width="6.40" height="90.90" fill="#a7a9ac"/>
<rect x="407.26" y="601.93" width="5.20" height="21.27" fill="#7199d5"/>
<line x1="400.96" y1="538.66" x2="400.96" y2="525.94" stroke="#3a3a3a" stroke-width="0.6"/>
<line x1="399.76" y1="538.66" x2="402.16" y2="538.66" stroke="#3a3a3a" stroke-width="0.6"/>
<line x1="399.76" y1="525.94" x2="402.16" y2="525.94" stroke="#3a3a3a" stroke-width="0.6"/>
<line x1="409.86" y1="603.20" x2="409.86" y2="600.48" stroke="#3a3a3a" stroke-width="0.6"/>
<line x1="408.66" y1="603.20" x2="411.06" y2="603.20" stroke="#3a3a3a" stroke-width="0.6"/>
<line x1="408.66" y1="600.48" x2="411.06" y2="600.48" stroke="#3a3a3a" stroke-width="0.6"/>
<circle cx="400.56" cy="525.03" r="1.15" fill="#fff" fill-opacity="0.35" stroke="#3a3a3a" stroke-width="0.5"/>
<circle cx="401.36" cy="532.30" r="1.15" fill="#fff" fill-opacity="0.35" stroke="#3a3a3a" stroke-width="0.5"/>
<circle cx="400.56" cy="538.66" r="1.15" fill="#fff" fill-opacity="0.35" stroke="#3a3a3a" stroke-width="0.5"/>
<polygon points="409.46,597.36 410.76,599.70 408.16,599.70" fill="#fff" fill-opacity="0.35" stroke="#3a3a3a" stroke-width="0.5"/>
<polygon points="410.26,599.18 411.56,601.51 408.96,601.51" fill="#fff" fill-opacity="0.35" stroke="#3a3a3a" stroke-width="0.5"/>
<polygon points="409.46,600.08 410.76,602.42 408.16,602.42" fill="#fff" fill-opacity="0.35" stroke="#3a3a3a" stroke-width="0.5"/>
<line x1="405.76" y1="623.20" x2="405.76" y2="628.20" stroke="#777" stroke-width="0.7"/>
<text x="408.96" y="632.00" font-size="9.20" textLength="22.60" lengthAdjust="spacingAndGlyphs" text-anchor="end" font-style="italic" transform="rotate(-90 408.96 632.00)">PUM2</text>
<line x1="400.96" y1="520.30" x2="400.96" y2="522.50" stroke="#7a7a7a" stroke-width="0.6"/>
<line x1="400.96" y1="520.30" x2="409.86" y2="520.30" stroke="#7a7a7a" stroke-width="0.6"/>
<line x1="409.86" y1="520.30" x2="409.86" y2="597.40" stroke="#7a7a7a" stroke-width="0.6"/>
<text x="393.40" y="509.70" font-size="5.96"><tspan font-style="italic">P</tspan><tspan> &lt; 0.001</tspan></text>
<rect x="422.48" y="532.30" width="6.40" height="90.90" fill="#a7a9ac"/>
<rect x="431.98" y="613.66" width="5.20" height="9.54" fill="#7199d5"/>
<line x1="425.68" y1="534.12" x2="425.68" y2="528.66" stroke="#3a3a3a" stroke-width="0.6"/>
<line x1="424.48" y1="534.12" x2="426.88" y2="534.12" stroke="#3a3a3a" stroke-width="0.6"/>
<line x1="424.48" y1="528.66" x2="426.88" y2="528.66" stroke="#3a3a3a" stroke-width="0.6"/>
<line x1="434.58" y1="615.02" x2="434.58" y2="612.29" stroke="#3a3a3a" stroke-width="0.6"/>
<line x1="433.38" y1="615.02" x2="435.78" y2="615.02" stroke="#3a3a3a" stroke-width="0.6"/>
<line x1="433.38" y1="612.29" x2="435.78" y2="612.29" stroke="#3a3a3a" stroke-width="0.6"/>
<circle cx="425.28" cy="528.12" r="1.15" fill="#fff" fill-opacity="0.35" stroke="#3a3a3a" stroke-width="0.5"/>
<circle cx="426.08" cy="532.57" r="1.15" fill="#fff" fill-opacity="0.35" stroke="#3a3a3a" stroke-width="0.5"/>
<circle cx="425.28" cy="533.21" r="1.15" fill="#fff" fill-opacity="0.35" stroke="#3a3a3a" stroke-width="0.5"/>
<polygon points="434.18,610.08 435.48,612.42 432.88,612.42" fill="#fff" fill-opacity="0.35" stroke="#3a3a3a" stroke-width="0.5"/>
<polygon points="434.98,611.90 436.28,614.24 433.68,614.24" fill="#fff" fill-opacity="0.35" stroke="#3a3a3a" stroke-width="0.5"/>
<polygon points="434.18,612.81 435.48,615.15 432.88,615.15" fill="#fff" fill-opacity="0.35" stroke="#3a3a3a" stroke-width="0.5"/>
<line x1="430.48" y1="623.20" x2="430.48" y2="628.20" stroke="#777" stroke-width="0.7"/>
<text x="433.68" y="632.00" font-size="9.20" textLength="21.00" lengthAdjust="spacingAndGlyphs" text-anchor="end" font-style="italic" transform="rotate(-90 433.68 632.00)">SDC1</text>
<line x1="425.68" y1="522.00" x2="425.68" y2="524.00" stroke="#7a7a7a" stroke-width="0.6"/>
<line x1="425.68" y1="522.00" x2="434.58" y2="522.00" stroke="#7a7a7a" stroke-width="0.6"/>
<line x1="434.58" y1="522.00" x2="434.58" y2="612.00" stroke="#7a7a7a" stroke-width="0.6"/>
<text x="413.50" y="518.70" font-size="6.06"><tspan font-style="italic">P</tspan><tspan> &lt; 0.0001</tspan></text>
<rect x="447.20" y="532.30" width="6.40" height="90.90" fill="#a7a9ac"/>
<rect x="456.70" y="613.66" width="5.20" height="9.54" fill="#7199d5"/>
<line x1="450.40" y1="544.12" x2="450.40" y2="519.57" stroke="#3a3a3a" stroke-width="0.6"/>
<line x1="449.20" y1="544.12" x2="451.60" y2="544.12" stroke="#3a3a3a" stroke-width="0.6"/>
<line x1="449.20" y1="519.57" x2="451.60" y2="519.57" stroke="#3a3a3a" stroke-width="0.6"/>
<line x1="459.30" y1="615.02" x2="459.30" y2="612.29" stroke="#3a3a3a" stroke-width="0.6"/>
<line x1="458.10" y1="615.02" x2="460.50" y2="615.02" stroke="#3a3a3a" stroke-width="0.6"/>
<line x1="458.10" y1="612.29" x2="460.50" y2="612.29" stroke="#3a3a3a" stroke-width="0.6"/>
<circle cx="450.00" cy="521.39" r="1.15" fill="#fff" fill-opacity="0.35" stroke="#3a3a3a" stroke-width="0.5"/>
<circle cx="450.80" cy="526.85" r="1.15" fill="#fff" fill-opacity="0.35" stroke="#3a3a3a" stroke-width="0.5"/>
<circle cx="450.00" cy="544.39" r="1.15" fill="#fff" fill-opacity="0.35" stroke="#3a3a3a" stroke-width="0.5"/>
<polygon points="458.90,610.08 460.20,612.42 457.60,612.42" fill="#fff" fill-opacity="0.35" stroke="#3a3a3a" stroke-width="0.5"/>
<polygon points="459.70,611.90 461.00,614.24 458.40,614.24" fill="#fff" fill-opacity="0.35" stroke="#3a3a3a" stroke-width="0.5"/>
<polygon points="458.90,612.81 460.20,615.15 457.60,615.15" fill="#fff" fill-opacity="0.35" stroke="#3a3a3a" stroke-width="0.5"/>
<line x1="455.20" y1="623.20" x2="455.20" y2="628.20" stroke="#777" stroke-width="0.7"/>
<text x="458.40" y="632.00" font-size="9.20" textLength="24.00" lengthAdjust="spacingAndGlyphs" text-anchor="end" font-style="italic" transform="rotate(-90 458.40 632.00)">RHOB</text>
<line x1="450.40" y1="517.60" x2="450.40" y2="519.50" stroke="#7a7a7a" stroke-width="0.6"/>
<line x1="450.40" y1="517.60" x2="459.30" y2="517.60" stroke="#7a7a7a" stroke-width="0.6"/>
<line x1="459.30" y1="517.60" x2="459.30" y2="607.50" stroke="#7a7a7a" stroke-width="0.6"/>
<text x="440.30" y="509.70" font-size="5.96"><tspan font-style="italic">P</tspan><tspan> &lt; 0.001</tspan></text>
<rect x="471.92" y="532.30" width="6.40" height="90.90" fill="#a7a9ac"/>
<rect x="481.42" y="532.30" width="5.20" height="90.90" fill="#7199d5"/>
<line x1="475.12" y1="545.03" x2="475.12" y2="517.76" stroke="#3a3a3a" stroke-width="0.6"/>
<line x1="473.92" y1="545.03" x2="476.32" y2="545.03" stroke="#3a3a3a" stroke-width="0.6"/>
<line x1="473.92" y1="517.76" x2="476.32" y2="517.76" stroke="#3a3a3a" stroke-width="0.6"/>
<line x1="484.02" y1="545.03" x2="484.02" y2="519.57" stroke="#3a3a3a" stroke-width="0.6"/>
<line x1="482.82" y1="545.03" x2="485.22" y2="545.03" stroke="#3a3a3a" stroke-width="0.6"/>
<line x1="482.82" y1="519.57" x2="485.22" y2="519.57" stroke="#3a3a3a" stroke-width="0.6"/>
<circle cx="474.72" cy="517.76" r="1.15" fill="#fff" fill-opacity="0.35" stroke="#3a3a3a" stroke-width="0.5"/>
<circle cx="475.52" cy="533.66" r="1.15" fill="#fff" fill-opacity="0.35" stroke="#3a3a3a" stroke-width="0.5"/>
<circle cx="474.72" cy="545.03" r="1.15" fill="#fff" fill-opacity="0.35" stroke="#3a3a3a" stroke-width="0.5"/>
<polygon points="483.62,518.55 484.92,520.89 482.32,520.89" fill="#fff" fill-opacity="0.35" stroke="#3a3a3a" stroke-width="0.5"/>
<polygon points="484.42,531.91 485.72,534.25 483.12,534.25" fill="#fff" fill-opacity="0.35" stroke="#3a3a3a" stroke-width="0.5"/>
<polygon points="483.62,544.00 484.92,546.34 482.32,546.34" fill="#fff" fill-opacity="0.35" stroke="#3a3a3a" stroke-width="0.5"/>
<line x1="479.92" y1="623.20" x2="479.92" y2="628.20" stroke="#777" stroke-width="0.7"/>
<text x="483.12" y="632.00" font-size="9.20" textLength="29.70" lengthAdjust="spacingAndGlyphs" text-anchor="end" font-style="italic" transform="rotate(-90 483.12 632.00)">WDR35</text>
<line x1="475.12" y1="510.20" x2="475.12" y2="513.50" stroke="#7a7a7a" stroke-width="0.6"/>
<line x1="475.12" y1="510.20" x2="484.02" y2="510.20" stroke="#7a7a7a" stroke-width="0.6"/>
<line x1="484.02" y1="510.20" x2="484.02" y2="513.50" stroke="#7a7a7a" stroke-width="0.6"/>
<text x="468.30" y="503.00" font-size="5.96"><tspan font-style="italic">P</tspan><tspan> = 0.998</tspan></text>
<rect x="496.64" y="532.30" width="6.40" height="90.90" fill="#a7a9ac"/>
<rect x="506.14" y="552.75" width="5.20" height="70.45" fill="#7199d5"/>
<line x1="499.84" y1="565.93" x2="499.84" y2="499.58" stroke="#3a3a3a" stroke-width="0.6"/>
<line x1="498.64" y1="565.93" x2="501.04" y2="565.93" stroke="#3a3a3a" stroke-width="0.6"/>
<line x1="498.64" y1="499.58" x2="501.04" y2="499.58" stroke="#3a3a3a" stroke-width="0.6"/>
<line x1="508.74" y1="555.93" x2="508.74" y2="548.66" stroke="#3a3a3a" stroke-width="0.6"/>
<line x1="507.54" y1="555.93" x2="509.94" y2="555.93" stroke="#3a3a3a" stroke-width="0.6"/>
<line x1="507.54" y1="548.66" x2="509.94" y2="548.66" stroke="#3a3a3a" stroke-width="0.6"/>
<circle cx="499.44" cy="508.03" r="1.15" fill="#fff" fill-opacity="0.35" stroke="#3a3a3a" stroke-width="0.5"/>
<circle cx="500.24" cy="518.03" r="1.15" fill="#fff" fill-opacity="0.35" stroke="#3a3a3a" stroke-width="0.5"/>
<circle cx="499.44" cy="569.93" r="1.15" fill="#fff" fill-opacity="0.35" stroke="#3a3a3a" stroke-width="0.5"/>
<polygon points="508.34,543.09 509.64,545.43 507.04,545.43" fill="#fff" fill-opacity="0.35" stroke="#3a3a3a" stroke-width="0.5"/>
<polygon points="509.14,553.73 510.44,556.07 507.84,556.07" fill="#fff" fill-opacity="0.35" stroke="#3a3a3a" stroke-width="0.5"/>
<polygon points="508.34,552.82 509.64,555.16 507.04,555.16" fill="#fff" fill-opacity="0.35" stroke="#3a3a3a" stroke-width="0.5"/>
<line x1="504.64" y1="623.20" x2="504.64" y2="628.20" stroke="#777" stroke-width="0.7"/>
<text x="507.84" y="632.00" font-size="9.20" textLength="32.20" lengthAdjust="spacingAndGlyphs" text-anchor="end" font-style="italic" transform="rotate(-90 507.84 632.00)">HS1BP3</text>
<line x1="499.84" y1="493.90" x2="499.84" y2="497.00" stroke="#7a7a7a" stroke-width="0.6"/>
<line x1="499.84" y1="493.90" x2="508.74" y2="493.90" stroke="#7a7a7a" stroke-width="0.6"/>
<line x1="508.74" y1="493.90" x2="508.74" y2="542.60" stroke="#7a7a7a" stroke-width="0.6"/>
<text x="489.00" y="490.00" font-size="5.96"><tspan font-style="italic">P</tspan><tspan> = 0.3793</tspan></text>
<rect x="543.4" y="459.8" width="2.7" height="2.0" fill="#111"/><rect x="543.4" y="462.9" width="2.7" height="6.0" fill="#111"/>
<text x="598.80" y="500.80" font-size="8.48">CRISPRi targets</text>
<text x="601.70" y="510.50" font-size="8.87">the TSS region</text>
<line x1="577.70" y1="507.80" x2="577.70" y2="623.60" stroke="#555" stroke-width="0.9"/>
<line x1="577.70" y1="623.60" x2="678.10" y2="623.60" stroke="#555" stroke-width="0.9"/>
<line x1="573.40" y1="623.60" x2="577.70" y2="623.60" stroke="#777" stroke-width="0.8"/>
<text x="569.50" y="626.40" font-size="7.00" text-anchor="end">0</text>
<line x1="573.40" y1="585.20" x2="577.70" y2="585.20" stroke="#777" stroke-width="0.8"/>
<text x="569.50" y="588.00" font-size="7.00" text-anchor="end">0.5</text>
<line x1="573.40" y1="546.80" x2="577.70" y2="546.80" stroke="#777" stroke-width="0.8"/>
<text x="569.50" y="549.60" font-size="7.00" text-anchor="end">1.0</text>
<line x1="573.40" y1="508.40" x2="577.70" y2="508.40" stroke="#777" stroke-width="0.8"/>
<text x="569.50" y="511.20" font-size="7.00" text-anchor="end">1.5</text>
<text x="550.50" y="558.80" font-size="8.96" text-anchor="middle" transform="rotate(-90 550.50 558.80)">OD value (490 nm)</text>
<rect x="584.10" y="550.26" width="11.70" height="73.34" fill="#a7a9ac"/>
<line x1="589.95" y1="623.60" x2="589.95" y2="627.10" stroke="#231f20" stroke-width="0.7"/>
<text x="593.15" y="632.90" font-size="9.20" textLength="31.00" lengthAdjust="spacingAndGlyphs" text-anchor="end" transform="rotate(-90 593.15 632.90)">Control</text>
<circle cx="585.40" cy="546.80" r="1.45" fill="#fff" stroke="#3a3a3a" stroke-width="0.5"/>
<circle cx="586.70" cy="548.34" r="1.45" fill="#fff" stroke="#3a3a3a" stroke-width="0.5"/>
<circle cx="588.00" cy="549.87" r="1.45" fill="#fff" stroke="#3a3a3a" stroke-width="0.5"/>
<circle cx="589.30" cy="550.64" r="1.45" fill="#fff" stroke="#3a3a3a" stroke-width="0.5"/>
<circle cx="590.60" cy="551.41" r="1.45" fill="#fff" stroke="#3a3a3a" stroke-width="0.5"/>
<circle cx="591.90" cy="552.18" r="1.45" fill="#fff" stroke="#3a3a3a" stroke-width="0.5"/>
<circle cx="593.20" cy="550.64" r="1.45" fill="#fff" stroke="#3a3a3a" stroke-width="0.5"/>
<circle cx="594.50" cy="549.10" r="1.45" fill="#fff" stroke="#3a3a3a" stroke-width="0.5"/>
<rect x="602.80" y="571.38" width="11.70" height="52.22" fill="#4f45a0"/>
<line x1="608.65" y1="623.60" x2="608.65" y2="627.10" stroke="#231f20" stroke-width="0.7"/>
<text x="611.85" y="632.90" font-size="9.20" textLength="23.40" lengthAdjust="spacingAndGlyphs" text-anchor="end" font-style="italic" transform="rotate(-90 611.85 632.90)">PUM2</text>
<circle cx="604.75" cy="569.84" r="1.45" fill="#fff" stroke="#3a3a3a" stroke-width="0.5"/>
<circle cx="606.05" cy="570.61" r="1.45" fill="#fff" stroke="#3a3a3a" stroke-width="0.5"/>
<circle cx="607.35" cy="571.38" r="1.45" fill="#fff" stroke="#3a3a3a" stroke-width="0.5"/>
<circle cx="608.65" cy="569.07" r="1.45" fill="#fff" stroke="#3a3a3a" stroke-width="0.5"/>
<circle cx="609.95" cy="570.61" r="1.45" fill="#fff" stroke="#3a3a3a" stroke-width="0.5"/>
<circle cx="611.25" cy="569.84" r="1.45" fill="#fff" stroke="#3a3a3a" stroke-width="0.5"/>
<circle cx="612.55" cy="568.30" r="1.45" fill="#fff" stroke="#3a3a3a" stroke-width="0.5"/>
<rect x="621.80" y="571.38" width="11.70" height="52.22" fill="#6b62b3"/>
<line x1="627.65" y1="623.60" x2="627.65" y2="627.10" stroke="#231f20" stroke-width="0.7"/>
<text x="630.85" y="632.90" font-size="9.20" textLength="38.50" lengthAdjust="spacingAndGlyphs" text-anchor="end" font-style="italic" transform="rotate(-90 630.85 632.90)">LAPTM4A</text>
<circle cx="623.75" cy="560.62" r="1.45" fill="#fff" stroke="#3a3a3a" stroke-width="0.5"/>
<circle cx="625.05" cy="566.77" r="1.45" fill="#fff" stroke="#3a3a3a" stroke-width="0.5"/>
<circle cx="626.35" cy="569.84" r="1.45" fill="#fff" stroke="#3a3a3a" stroke-width="0.5"/>
<circle cx="627.65" cy="571.38" r="1.45" fill="#fff" stroke="#3a3a3a" stroke-width="0.5"/>
<circle cx="628.95" cy="572.14" r="1.45" fill="#fff" stroke="#3a3a3a" stroke-width="0.5"/>
<circle cx="630.25" cy="570.61" r="1.45" fill="#fff" stroke="#3a3a3a" stroke-width="0.5"/>
<circle cx="631.55" cy="569.07" r="1.45" fill="#fff" stroke="#3a3a3a" stroke-width="0.5"/>
<rect x="640.50" y="563.70" width="11.70" height="59.90" fill="#9a93cf"/>
<line x1="646.35" y1="623.60" x2="646.35" y2="627.10" stroke="#231f20" stroke-width="0.7"/>
<text x="649.55" y="632.90" font-size="9.20" textLength="21.40" lengthAdjust="spacingAndGlyphs" text-anchor="end" font-style="italic" transform="rotate(-90 649.55 632.90)">SDC1</text>
<circle cx="643.10" cy="562.93" r="1.45" fill="#fff" stroke="#3a3a3a" stroke-width="0.5"/>
<circle cx="644.40" cy="563.70" r="1.45" fill="#fff" stroke="#3a3a3a" stroke-width="0.5"/>
<circle cx="645.70" cy="562.93" r="1.45" fill="#fff" stroke="#3a3a3a" stroke-width="0.5"/>
<circle cx="647.00" cy="563.70" r="1.45" fill="#fff" stroke="#3a3a3a" stroke-width="0.5"/>
<circle cx="648.30" cy="562.93" r="1.45" fill="#fff" stroke="#3a3a3a" stroke-width="0.5"/>
<circle cx="649.60" cy="563.70" r="1.45" fill="#fff" stroke="#3a3a3a" stroke-width="0.5"/>
<rect x="659.50" y="570.99" width="11.70" height="52.61" fill="#c9c5e6"/>
<line x1="665.35" y1="623.60" x2="665.35" y2="627.10" stroke="#231f20" stroke-width="0.7"/>
<text x="668.55" y="632.90" font-size="9.20" textLength="23.40" lengthAdjust="spacingAndGlyphs" text-anchor="end" font-style="italic" transform="rotate(-90 668.55 632.90)">RHOB</text>
<circle cx="662.10" cy="565.23" r="1.45" fill="#fff" stroke="#3a3a3a" stroke-width="0.5"/>
<circle cx="663.40" cy="568.30" r="1.45" fill="#fff" stroke="#3a3a3a" stroke-width="0.5"/>
<circle cx="664.70" cy="569.84" r="1.45" fill="#fff" stroke="#3a3a3a" stroke-width="0.5"/>
<circle cx="666.00" cy="570.61" r="1.45" fill="#fff" stroke="#3a3a3a" stroke-width="0.5"/>
<circle cx="667.30" cy="569.07" r="1.45" fill="#fff" stroke="#3a3a3a" stroke-width="0.5"/>
<circle cx="668.60" cy="567.54" r="1.45" fill="#fff" stroke="#3a3a3a" stroke-width="0.5"/>
<text x="599.90" y="534.90" font-size="6.09">P &lt; 0.0001</text>
<line x1="590.00" y1="538.40" x2="637.90" y2="538.40" stroke="#9a9a9a" stroke-width="0.9"/>
<line x1="590.00" y1="538.40" x2="590.00" y2="541.50" stroke="#9a9a9a" stroke-width="0.9"/>
<line x1="637.90" y1="538.40" x2="637.90" y2="557.80" stroke="#9a9a9a" stroke-width="0.9"/>
<line x1="609.00" y1="557.80" x2="665.30" y2="557.80" stroke="#9a9a9a" stroke-width="0.9"/>
</svg>
</body></html>
